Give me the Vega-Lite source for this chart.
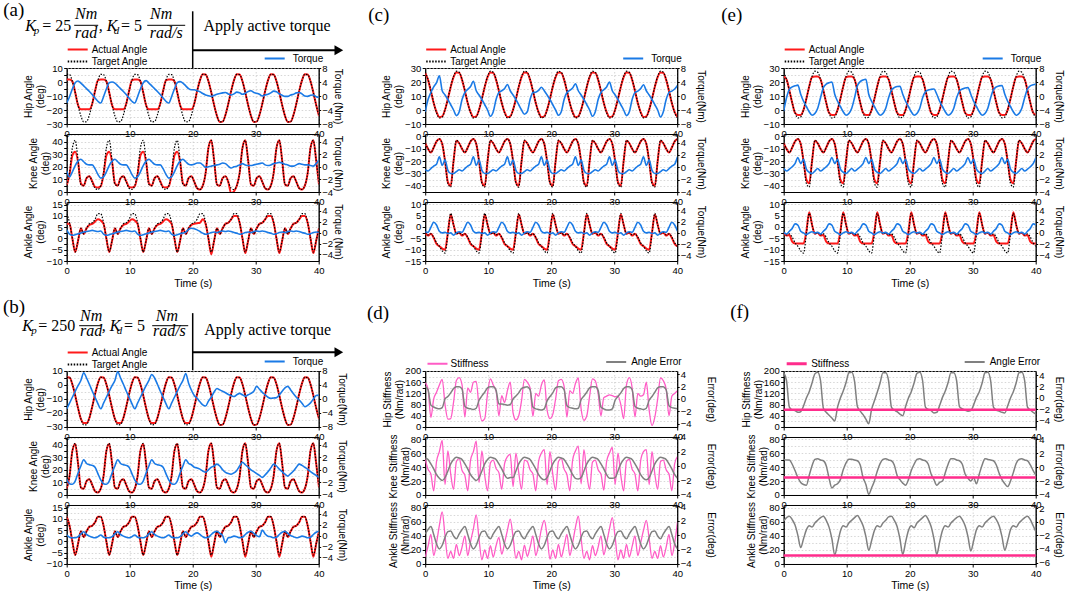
{
"$schema":"https://vega.github.io/schema/vega-lite/v6.json",
"background":"white",
"padding":{"left":2.7,"top":0,"right":4,"bottom":4},
"config":{
"view":{"stroke":"#000","strokeWidth":1},
"axis":{"labelFont":"Liberation Sans","labelFontSize":9.5,"labelColor":"#000","titleFont":"Liberation Sans","titleFontSize":10,"titleFontWeight":"normal","titleColor":"#000","domainColor":"#000","tickColor":"#000","tickSize":3,"labelPadding":1.5,"titlePadding":1,"labelOverlap":false,"labelFlush":false,"gridColor":"#c4c4c4","gridDash":[1.5,2],"gridWidth":0.7,"titleLineHeight":12},
"axisRight":{"tickSize":2,"labelPadding":1},
"legend":{"symbolType":"stroke","symbolSize":400,"symbolStrokeWidth":2,"clipHeight":12,"rowPadding":0,"padding":0,"labelFont":"Liberation Sans","labelFontSize":10,"labelColor":"#000","labelOffset":3},
"text":{"font":"Liberation Serif","fontSize":16,"baseline":"alphabetic","align":"left","color":"#000"}
},
"datasets":{
"ab":[
{"t":0,"h":5.5,"k":5,"n":11,"ah":1.8,"ak":5.5,"an":6.5,"aH":-2,"aK":-0.7,"aN":0.5,"bh":5.5,"bk":5,"bn":11,"bH":-2.8,"bK":-1.5,"bN":0.1},
{"t":0.45,"h":5.3,"k":15,"n":7,"ah":1.8,"ak":14,"an":6.5,"aH":-0.2,"aK":-1.6,"aN":-0.3,"bh":5.3,"bk":15,"bn":7,"bH":-1.2,"bK":-2.2,"bN":-0.3},
{"t":0.9,"h":0.5,"k":35,"n":0,"ah":0.5,"ak":29,"an":0,"aH":2,"aK":-0.8,"aN":-0.5,"bh":0.5,"bk":35,"bn":0,"bH":0.5,"bK":-2.3,"bN":-0.4},
{"t":1.35,"h":-7.5,"k":41,"n":-6,"ah":-7.5,"ak":32,"an":-6,"aH":3.8,"aK":0.2,"aN":-0.4,"bh":-7.5,"bk":40.5,"bn":-6,"bH":2.2,"bK":-1.8,"bN":-0.4},
{"t":1.8,"h":-16.5,"k":25,"n":-1,"ah":-16.5,"ak":24,"an":-1,"aH":4.3,"aK":0.9,"aN":-0.2,"bh":-16.5,"bk":25,"bn":-1,"bH":3.8,"bK":-0.5,"bN":-0.2},
{"t":2.25,"h":-24.2,"k":6,"n":4.5,"ah":-19.5,"ak":7,"an":4.5,"aH":3.7,"aK":1.2,"aN":-0.1,"bh":-24.2,"bk":6,"bn":4.5,"bH":5.3,"bK":0.6,"bN":0.3},
{"t":2.7,"h":-28.5,"k":5,"n":2,"ah":-19.5,"ak":5,"an":2,"aH":2.9,"aK":0.8,"aN":0.1,"bh":-27.2,"bk":5,"bn":2,"bH":7.5,"bK":1.6,"bN":0.7},
{"t":3.15,"h":-28.3,"k":11,"n":4.5,"ah":-19.5,"ak":11,"an":4.5,"aH":2.1,"aK":0.4,"aN":0.2,"bh":-27.2,"bk":11,"bn":4.5,"bH":6,"bK":1,"bN":0.2},
{"t":3.6,"h":-23.5,"k":12.5,"n":6.5,"ah":-19.5,"ak":12.5,"an":6,"aH":1.3,"aK":0.3,"aN":0.3,"bh":-23.5,"bk":12.5,"bn":6.5,"bH":4.2,"bK":0.8,"bN":-0.1},
{"t":4.05,"h":-15.5,"k":8,"n":7,"ah":-15.5,"ak":8.5,"an":6.5,"aH":0.4,"aK":0.3,"aN":0.4,"bh":-15.5,"bk":8,"bn":7,"bH":2.3,"bK":0.7,"bN":-0.3},
{"t":4.5,"h":-6.5,"k":3,"n":8.5,"ah":-6.5,"ak":4,"an":7.5,"aH":-0.6,"aK":-0.3,"aN":0.3,"bh":-6.5,"bk":3,"bn":8.5,"bH":0.5,"bK":0.4,"bN":-0.4},
{"t":4.95,"h":1.2,"k":2,"n":11,"ah":1.2,"ak":3.5,"an":8.5,"aH":-1.5,"aK":-1.2,"aN":0.2,"bh":1.2,"bk":2,"bn":11,"bH":-1.3,"bK":-0.6,"bN":-0.2},
{"t":5.4,"h":5.5,"k":5,"n":11,"ah":1.8,"ak":4.5,"an":8,"aH":-2,"aK":-1.8,"aN":0.3,"bh":5.5,"bk":5,"bn":11,"bH":-2.8,"bK":-1.6,"bN":0.1},
{"t":5.85,"h":5.3,"k":15,"n":7,"ah":1.8,"ak":14,"an":6.5,"aH":-0.2,"aK":-1.6,"aN":-0.3,"bh":5.3,"bk":15,"bn":7,"bH":-1.2,"bK":-2.2,"bN":-0.3},
{"t":6.3,"h":0.5,"k":35,"n":0,"ah":0.5,"ak":29,"an":0,"aH":2,"aK":-0.8,"aN":-0.5,"bh":0.5,"bk":35,"bn":0,"bH":0.5,"bK":-2.3,"bN":-0.4},
{"t":6.75,"h":-7.5,"k":41,"n":-6,"ah":-7.5,"ak":32,"an":-6,"aH":3.8,"aK":0.2,"aN":-0.4,"bh":-7.5,"bk":40.5,"bn":-6,"bH":2.2,"bK":-1.8,"bN":-0.4},
{"t":7.2,"h":-16.5,"k":25,"n":-1,"ah":-16.5,"ak":24,"an":-1,"aH":4,"aK":0.9,"aN":-0.2,"bh":-16.5,"bk":25,"bn":-1,"bH":3.8,"bK":-0.5,"bN":-0.2},
{"t":7.65,"h":-24.2,"k":6,"n":4.5,"ah":-19.5,"ak":7,"an":4.5,"aH":3.7,"aK":1.2,"aN":-0.1,"bh":-24.2,"bk":6,"bn":4.5,"bH":5.3,"bK":0.6,"bN":0.3},
{"t":8.1,"h":-28.5,"k":5,"n":2,"ah":-19.5,"ak":5,"an":2,"aH":2.9,"aK":0.8,"aN":0.1,"bh":-27.2,"bk":5,"bn":2,"bH":7.8,"bK":1.6,"bN":0.7},
{"t":8.55,"h":-28.3,"k":11,"n":4.5,"ah":-19.5,"ak":11,"an":4.5,"aH":2.1,"aK":0.4,"aN":0.2,"bh":-27.2,"bk":11,"bn":4.5,"bH":6,"bK":1,"bN":0.2},
{"t":9,"h":-23.5,"k":12.5,"n":6.5,"ah":-19.5,"ak":12.5,"an":6,"aH":1.3,"aK":0.3,"aN":0.3,"bh":-23.5,"bk":12.5,"bn":6.5,"bH":4.2,"bK":0.8,"bN":-0.1},
{"t":9.45,"h":-15.5,"k":8,"n":7,"ah":-15.5,"ak":8.5,"an":6.5,"aH":0.4,"aK":0.3,"aN":0.4,"bh":-15.5,"bk":8,"bn":7,"bH":2.3,"bK":0.7,"bN":-0.3},
{"t":9.9,"h":-6.5,"k":3,"n":8.5,"ah":-6.5,"ak":4,"an":7.5,"aH":-0.6,"aK":-0.3,"aN":0.3,"bh":-6.5,"bk":3,"bn":8.5,"bH":0.5,"bK":0.4,"bN":-0.4},
{"t":10.35,"h":1.2,"k":2,"n":11,"ah":1.2,"ak":3.5,"an":8.5,"aH":-1.5,"aK":-1.2,"aN":0.2,"bh":1.2,"bk":2,"bn":11,"bH":-1.3,"bK":-0.6,"bN":-0.2},
{"t":10.8,"h":5.5,"k":5,"n":11,"ah":1.8,"ak":4.5,"an":8,"aH":-2,"aK":-1.8,"aN":0.3,"bh":5.5,"bk":5,"bn":11,"bH":-2.8,"bK":-1.6,"bN":0.1},
{"t":11.25,"h":5.3,"k":15,"n":7,"ah":1.8,"ak":14,"an":6.5,"aH":-0.2,"aK":-1.6,"aN":-0.3,"bh":5.3,"bk":15,"bn":7,"bH":-1.2,"bK":-2.2,"bN":-0.3},
{"t":11.7,"h":0.5,"k":35,"n":0,"ah":0.5,"ak":29,"an":0,"aH":2,"aK":-0.8,"aN":-0.5,"bh":0.5,"bk":35,"bn":0,"bH":0.5,"bK":-2.3,"bN":-0.4},
{"t":12.15,"h":-7.5,"k":41,"n":-6,"ah":-7.5,"ak":32,"an":-6,"aH":3.8,"aK":0.2,"aN":-0.4,"bh":-7.5,"bk":40.5,"bn":-6,"bH":2.2,"bK":-1.8,"bN":-0.4},
{"t":12.6,"h":-16.5,"k":25,"n":-1,"ah":-16.5,"ak":24,"an":-1,"aH":4.4,"aK":0.9,"aN":-0.2,"bh":-16.5,"bk":25,"bn":-1,"bH":3.8,"bK":-0.5,"bN":-0.2},
{"t":13.05,"h":-24.2,"k":6,"n":4.5,"ah":-19.5,"ak":7,"an":4.5,"aH":3.7,"aK":1.2,"aN":-0.1,"bh":-24.2,"bk":6,"bn":4.5,"bH":5.3,"bK":0.6,"bN":0.3},
{"t":13.5,"h":-28.5,"k":5,"n":2,"ah":-19.5,"ak":5,"an":2,"aH":2.9,"aK":0.8,"aN":0.1,"bh":-27.2,"bk":5,"bn":2,"bH":7,"bK":1.6,"bN":0.7},
{"t":13.95,"h":-28.3,"k":11,"n":4.5,"ah":-19.5,"ak":11,"an":4.5,"aH":2.1,"aK":0.4,"aN":0.2,"bh":-27.2,"bk":11,"bn":4.5,"bH":6,"bK":1,"bN":0.2},
{"t":14.4,"h":-23.5,"k":12.5,"n":6.5,"ah":-19.5,"ak":12.5,"an":6,"aH":1.3,"aK":0.3,"aN":0.3,"bh":-23.5,"bk":12.5,"bn":6.5,"bH":4.2,"bK":0.8,"bN":-0.1},
{"t":14.85,"h":-15.5,"k":8,"n":7,"ah":-15.5,"ak":8.5,"an":6.5,"aH":0.4,"aK":0.3,"aN":0.4,"bh":-15.5,"bk":8,"bn":7,"bH":2.3,"bK":0.7,"bN":-0.3},
{"t":15.3,"h":-6.5,"k":3,"n":8.5,"ah":-6.5,"ak":4,"an":7.5,"aH":-0.6,"aK":-0.3,"aN":0.3,"bh":-6.5,"bk":3,"bn":8.5,"bH":0.5,"bK":0.4,"bN":-0.4},
{"t":15.75,"h":1.2,"k":2,"n":11,"ah":1.2,"ak":3.5,"an":8.5,"aH":-1.5,"aK":-1.2,"aN":0.2,"bh":1.2,"bk":2,"bn":11,"bH":-1.3,"bK":-0.6,"bN":-0.2},
{"t":16.2,"h":5.5,"k":5,"n":11,"ah":1.8,"ak":4.5,"an":8,"aH":-2,"aK":-1.8,"aN":0.3,"bh":5.5,"bk":5,"bn":11,"bH":-2.8,"bK":-1.6,"bN":0.1},
{"t":16.65,"h":5.3,"k":15,"n":7,"ah":1.8,"ak":14,"an":6.5,"aH":-0.2,"aK":-1.6,"aN":-0.3,"bh":5.3,"bk":15,"bn":7,"bH":-1.2,"bK":-2.2,"bN":-0.3},
{"t":17.1,"h":0.5,"k":35,"n":0,"ah":0.5,"ak":29,"an":0,"aH":2,"aK":-0.8,"aN":-0.5,"bh":0.5,"bk":35,"bn":0,"bH":0.5,"bK":-2.3,"bN":-0.4},
{"t":17.55,"h":-7.5,"k":41,"n":-6,"ah":-7.5,"ak":32,"an":-6,"aH":3.8,"aK":0.2,"aN":-0.4,"bh":-7.5,"bk":40.5,"bn":-6,"bH":2.2,"bK":-1.8,"bN":-0.4},
{"t":18,"h":-16.5,"k":25,"n":-1,"ah":-16.5,"ak":24,"an":-1,"aH":4.1,"aK":0.9,"aN":-0.2,"bh":-16.5,"bk":25,"bn":-1,"bH":3.8,"bK":-0.5,"bN":-0.2},
{"t":18.45,"h":-24.2,"k":6,"n":4.5,"ah":-19.5,"ak":7,"an":4.5,"aH":3.7,"aK":1.2,"aN":-0.1,"bh":-24.2,"bk":6,"bn":4.5,"bH":5.3,"bK":0.6,"bN":0.3},
{"t":18.9,"h":-28.5,"k":5,"n":2,"ah":-19.5,"ak":5,"an":2,"aH":2.9,"aK":0.8,"aN":0.1,"bh":-27.2,"bk":5,"bn":2,"bH":7.3,"bK":1.6,"bN":0.7},
{"t":19.35,"h":-28.3,"k":11,"n":4.5,"ah":-19.5,"ak":11,"an":4.5,"aH":2.1,"aK":0.4,"aN":0.6,"bh":-27.2,"bk":11,"bn":4.5,"bH":4.5,"bK":1,"bN":0.2},
{"t":19.8,"h":-23.5,"k":12.5,"n":6.5,"ah":-19.5,"ak":12.5,"an":6,"aH":1.8,"aK":0.3,"aN":0.8,"bh":-23.5,"bk":12.5,"bn":6.5,"bH":2.5,"bK":0.8,"bN":-0.1},
{"t":20.25,"h":-15.5,"k":8,"n":7,"ah":-15.5,"ak":8,"an":6.5,"aH":1.8,"aK":0.4,"aN":0.7,"bh":-15.5,"bk":8,"bn":7,"bH":1,"bK":0.4,"bN":0.3},
{"t":20.7,"h":-6.5,"k":3,"n":8.5,"ah":-6.5,"ak":3,"an":6.8,"aH":1.5,"aK":0.6,"aN":0.5,"bh":-6.5,"bk":3,"bn":8.5,"bH":0.2,"bK":0.3,"bN":0.5},
{"t":21.15,"h":1.2,"k":2,"n":11,"ah":1.2,"ak":2,"an":7,"aH":1.2,"aK":0.6,"aN":0.2,"bh":1.2,"bk":2,"bn":11,"bH":-0.8,"bK":0.1,"bN":0.2},
{"t":21.6,"h":5.5,"k":5,"n":11,"ah":5.5,"ak":5,"an":8.5,"aH":0.7,"aK":0.3,"aN":-0.1,"bh":5.5,"bk":5,"bn":11,"bH":-1.7,"bK":-0.2,"bN":-0.2},
{"t":22.05,"h":5.3,"k":15,"n":7,"ah":5.3,"ak":15,"an":6.5,"aH":0.3,"aK":-0.1,"aN":-0.3,"bh":5.3,"bk":15,"bn":7,"bH":-2,"bK":-0.4,"bN":-0.4},
{"t":22.5,"h":0.5,"k":35,"n":0,"ah":0.5,"ak":35,"an":0,"aH":0.1,"aK":0,"aN":-0.2,"bh":0.5,"bk":35,"bn":0,"bH":-0.6,"bK":0,"bN":-0.3},
{"t":22.95,"h":-7.5,"k":41,"n":-6,"ah":-7.5,"ak":41,"an":-7,"aH":-0.1,"aK":0.1,"aN":0,"bh":-7.5,"bk":41,"bn":-6.8,"bH":0.5,"bK":0.4,"bN":0.2},
{"t":23.4,"h":-16.5,"k":25,"n":-1,"ah":-16.5,"ak":25,"an":-1,"aH":0.2,"aK":0.2,"aN":0.1,"bh":-16.5,"bk":25,"bn":-1,"bH":2,"bK":0.6,"bN":0.6},
{"t":23.85,"h":-24.2,"k":6,"n":4.5,"ah":-24.2,"ak":6,"an":4.5,"aH":0.5,"aK":0.3,"aN":0,"bh":-24.2,"bk":6,"bn":4.5,"bH":3,"bK":0.9,"bN":0.8},
{"t":24.3,"h":-28.5,"k":5,"n":2,"ah":-28.5,"ak":5,"an":2,"aH":0.7,"aK":0.4,"aN":0.2,"bh":-28.5,"bk":5,"bn":2,"bH":2.6,"bK":0.6,"bN":0.4},
{"t":24.75,"h":-28.3,"k":11,"n":4.5,"ah":-28.3,"ak":11,"an":4.5,"aH":0.9,"aK":0.6,"aN":0.3,"bh":-28.3,"bk":11,"bn":4.5,"bH":2.2,"bK":0,"bN":0},
{"t":25.2,"h":-23.5,"k":12.5,"n":6.5,"ah":-23.5,"ak":12.5,"an":6.5,"aH":1,"aK":0.5,"aN":0.2,"bh":-23.5,"bk":12.5,"bn":6.5,"bH":1.8,"bK":-0.4,"bN":-1.3},
{"t":25.65,"h":-15.5,"k":8,"n":7,"ah":-15.5,"ak":8,"an":7,"aH":0.6,"aK":0.1,"aN":0.3,"bh":-15.5,"bk":8,"bn":7,"bH":1.3,"bK":-0.6,"bN":-0.4},
{"t":26.1,"h":-6.5,"k":3,"n":8.5,"ah":-6.5,"ak":-1,"an":8.5,"aH":0.3,"aK":-0.2,"aN":0.2,"bh":-6.5,"bk":3,"bn":8.5,"bH":1,"bK":-0.7,"bN":-0.3},
{"t":26.55,"h":1.2,"k":2,"n":11,"ah":1.2,"ak":0.5,"an":10,"aH":0.6,"aK":0,"aN":0,"bh":1.2,"bk":2,"bn":11,"bH":0.7,"bK":-0.5,"bN":-0.1},
{"t":27,"h":5.5,"k":5,"n":11,"ah":5.5,"ak":5,"an":10,"aH":1.1,"aK":0.1,"aN":-0.1,"bh":5.5,"bk":5,"bn":11,"bH":1.2,"bK":-0.1,"bN":-0.2},
{"t":27.45,"h":5.3,"k":15,"n":7,"ah":5.3,"ak":15,"an":7,"aH":0.9,"aK":0.3,"aN":-0.3,"bh":5.3,"bk":15,"bn":7,"bH":1.6,"bK":0.6,"bN":-0.4},
{"t":27.9,"h":0.5,"k":35,"n":0,"ah":0.5,"ak":35,"an":0,"aH":0.5,"aK":0.5,"aN":-0.2,"bh":0.5,"bk":35,"bn":0,"bH":1.2,"bK":1.2,"bN":-0.3},
{"t":28.35,"h":-7.5,"k":41,"n":-6,"ah":-7.5,"ak":41,"an":-6.5,"aH":0.8,"aK":0.3,"aN":0,"bh":-7.5,"bk":41,"bn":-6.8,"bH":0.8,"bK":0.8,"bN":0.2},
{"t":28.8,"h":-16.5,"k":25,"n":-1,"ah":-16.5,"ak":25,"an":-1,"aH":1.3,"aK":0.2,"aN":0.1,"bh":-16.5,"bk":25,"bn":-1,"bH":1.2,"bK":0.4,"bN":0.6},
{"t":29.25,"h":-24.2,"k":6,"n":4.5,"ah":-24.2,"ak":6,"an":4.5,"aH":1.5,"aK":0.2,"aN":0,"bh":-24.2,"bk":6,"bn":4.5,"bH":1.6,"bK":0,"bN":0.8},
{"t":29.7,"h":-28.5,"k":5,"n":2,"ah":-28.5,"ak":5,"an":2,"aH":1,"aK":0.3,"aN":0.2,"bh":-28.5,"bk":5,"bn":2,"bH":2.2,"bK":-0.3,"bN":0.4},
{"t":30.15,"h":-28.3,"k":11,"n":4.5,"ah":-28.3,"ak":11,"an":4.5,"aH":0.8,"aK":0.4,"aN":0.3,"bh":-28.3,"bk":11,"bn":4.5,"bH":3.6,"bK":-0.6,"bN":0},
{"t":30.6,"h":-23.5,"k":12.5,"n":6.5,"ah":-23.5,"ak":12.5,"an":6.5,"aH":0.5,"aK":0.5,"aN":0.2,"bh":-23.5,"bk":12.5,"bn":6.5,"bH":2.8,"bK":-0.9,"bN":-0.2},
{"t":31.05,"h":-15.5,"k":8,"n":7,"ah":-15.5,"ak":8,"an":7,"aH":0,"aK":0.6,"aN":0.3,"bh":-15.5,"bk":8,"bn":7,"bH":1.9,"bK":-1.2,"bN":1},
{"t":31.5,"h":-6.5,"k":3,"n":8.5,"ah":-6.5,"ak":3,"an":8.5,"aH":0.3,"aK":0.3,"aN":0.2,"bh":-6.5,"bk":3,"bn":8.5,"bH":1.2,"bK":-0.8,"bN":0.3},
{"t":31.95,"h":1.2,"k":2,"n":11,"ah":1.2,"ak":2,"an":10,"aH":0.5,"aK":0.2,"aN":0,"bh":1.2,"bk":2,"bn":11,"bH":0.5,"bK":-0.3,"bN":-0.1},
{"t":32.4,"h":5.5,"k":5,"n":11,"ah":5.5,"ak":5,"an":10,"aH":0.9,"aK":0.3,"aN":-0.1,"bh":5.5,"bk":5,"bn":11,"bH":0.2,"bK":0.3,"bN":-0.2},
{"t":32.85,"h":5.3,"k":15,"n":7,"ah":5.3,"ak":15,"an":7,"aH":1.4,"aK":0.5,"aN":-0.3,"bh":5.3,"bk":15,"bn":7,"bH":0.3,"bK":0.9,"bN":-0.4},
{"t":33.3,"h":0.5,"k":35,"n":0,"ah":0.5,"ak":35,"an":0,"aH":1.2,"aK":0.6,"aN":-0.2,"bh":0.5,"bk":35,"bn":0,"bH":0.4,"bK":0.6,"bN":-0.3},
{"t":33.75,"h":-7.5,"k":41,"n":-6,"ah":-7.5,"ak":41,"an":-6.5,"aH":0.6,"aK":0.7,"aN":0,"bh":-7.5,"bk":41,"bn":-6.8,"bH":1.2,"bK":0.1,"bN":0.2},
{"t":34.2,"h":-16.5,"k":25,"n":-1,"ah":-16.5,"ak":25,"an":-1,"aH":0.2,"aK":0.6,"aN":0.1,"bh":-16.5,"bk":25,"bn":-1,"bH":2.2,"bK":-0.3,"bN":0.6},
{"t":34.65,"h":-24.2,"k":6,"n":4.5,"ah":-24.2,"ak":6,"an":4.5,"aH":-0.1,"aK":0.4,"aN":0,"bh":-24.2,"bk":6,"bn":4.5,"bH":3.2,"bK":-0.7,"bN":0.8},
{"t":35.1,"h":-28.5,"k":5,"n":2,"ah":-28.5,"ak":5,"an":2,"aH":-0.1,"aK":0.3,"aN":0.2,"bh":-28.5,"bk":5,"bn":2,"bH":3.6,"bK":-1,"bN":0.4},
{"t":35.55,"h":-28.3,"k":11,"n":4.5,"ah":-28.3,"ak":11,"an":4.5,"aH":0.3,"aK":0.1,"aN":0.3,"bh":-28.3,"bk":11,"bn":4.5,"bH":2.6,"bK":-0.6,"bN":0},
{"t":36,"h":-23.5,"k":12.5,"n":6.5,"ah":-23.5,"ak":12.5,"an":6.5,"aH":0.5,"aK":0.1,"aN":0.2,"bh":-23.5,"bk":12.5,"bn":6.5,"bH":1.5,"bK":-0.2,"bN":-0.2},
{"t":36.45,"h":-15.5,"k":8,"n":7,"ah":-15.5,"ak":8,"an":7,"aH":0.9,"aK":0.3,"aN":0.3,"bh":-15.5,"bk":8,"bn":7,"bH":0.5,"bK":0.4,"bN":-0.4},
{"t":36.9,"h":-6.5,"k":3,"n":8.5,"ah":-6.5,"ak":3,"an":8.5,"aH":1,"aK":0.5,"aN":0.2,"bh":-6.5,"bk":3,"bn":8.5,"bH":-0.3,"bK":0.9,"bN":-0.3},
{"t":37.35,"h":1.2,"k":2,"n":11,"ah":1.2,"ak":2,"an":10,"aH":0.6,"aK":0.4,"aN":0,"bh":1.2,"bk":2,"bn":11,"bH":-1.2,"bK":0.7,"bN":-0.1},
{"t":37.8,"h":5.5,"k":5,"n":11,"ah":5.5,"ak":5,"an":10,"aH":0,"aK":0.3,"aN":-0.1,"bh":5.5,"bk":5,"bn":11,"bH":-2.2,"bK":0.4,"bN":-0.2},
{"t":38.25,"h":5.3,"k":15,"n":7,"ah":5.3,"ak":15,"an":7,"aH":-0.1,"aK":0.3,"aN":-0.3,"bh":5.3,"bk":15,"bn":7,"bH":-1.8,"bK":0.1,"bN":-0.4},
{"t":38.7,"h":0.5,"k":35,"n":0,"ah":0.5,"ak":35,"an":0,"aH":0.2,"aK":0.2,"aN":-0.2,"bh":0.5,"bk":35,"bn":0,"bH":-1.1,"bK":-0.3,"bN":-0.3},
{"t":39.15,"h":-7.5,"k":41,"n":-6,"ah":-7.5,"ak":41,"an":-6.5,"aH":0.3,"aK":0.1,"aN":0,"bh":-7.5,"bk":41,"bn":-6.8,"bH":0,"bK":-0.6,"bN":0.2},
{"t":39.6,"h":-16.5,"k":25,"n":-1,"ah":-16.5,"ak":25,"an":-1,"aH":-0.2,"aK":0.5,"aN":0.1,"bh":-16.5,"bk":25,"bn":-1,"bH":1,"bK":-0.9,"bN":0.6},
{"t":40.05,"h":-24.2,"k":6,"n":4.5,"ah":-24.2,"ak":6,"an":4.5,"aH":-0.4,"aK":1.1,"aN":0,"bh":-24.2,"bk":6,"bn":4.5,"bH":1.1,"bK":-1.2,"bN":0.8}
],
"ce":[
{"t":0,"h":27,"k":-5.5,"n":-2.5,"ch":26.5,"ck":-5.5,"cn":-2.5,"cH":-4.5,"cK":-0.4,"cN":0.2,"eh":24,"ek":-5.5,"en":-2.5,"eH":-4.3,"eK":-0.2,"eN":0.1},
{"t":0.45,"h":21.9,"k":-10,"n":-3.5,"ch":21.5,"ck":-10,"cn":-3.8,"cH":-1,"cK":-0.6,"cN":0.1,"eh":21.9,"ek":-10,"en":-3.8,"eH":-0.5,"eK":-0.6,"eN":-0.2},
{"t":0.9,"h":14,"k":-13,"n":-3,"ch":13.5,"ck":-13,"cn":-3,"cH":1,"cK":-0.2,"cN":1,"eh":14,"ek":-13,"en":-3.5,"eH":1.9,"eK":-0.3,"eN":0.3},
{"t":1.35,"h":5.2,"k":-9,"n":-4.5,"ch":5,"ck":-9,"cn":-4.8,"cH":2.6,"cK":0.2,"cN":1.9,"eh":5.2,"ek":-9,"en":-6.5,"eH":2.6,"eK":0.1,"eN":0.8},
{"t":1.8,"h":-2,"k":-4,"n":-7,"ch":-1.5,"ck":-4,"cn":-7.5,"cH":3.8,"cK":0.5,"cN":1.4,"eh":-2,"ek":-4,"en":-7.3,"eH":2.9,"eK":0.6,"eN":1.6},
{"t":2.25,"h":-5.7,"k":-2,"n":-8.5,"ch":-5,"ck":-2,"cn":-8.5,"cH":5.8,"cK":1.7,"cN":0.3,"eh":-3.5,"ek":-2,"en":-7.3,"eH":3.1,"eK":1.6,"eN":1.4},
{"t":2.7,"h":-5,"k":-6,"n":-10.5,"ch":-4.5,"ck":-6,"cn":-9.5,"cH":1.5,"cK":0.3,"cN":0,"eh":-3.5,"ek":-6,"en":-7.3,"eH":0.5,"eK":0.6,"eN":0.3},
{"t":3.15,"h":0.1,"k":-20,"n":-11.5,"ch":0.3,"ck":-20,"cn":-10,"cH":0.3,"cK":1.2,"cN":0.1,"eh":0.1,"ek":-20,"en":-7.3,"eH":-1.5,"eK":1.3,"eN":0},
{"t":3.6,"h":8,"k":-38,"n":-3,"ch":8,"ck":-37,"cn":-2.5,"cH":-1,"cK":-0.5,"cN":-0.1,"eh":8,"ek":-35,"en":-2,"eH":-3,"eK":-0.3,"eN":-0.3},
{"t":4.05,"h":16.8,"k":-41,"n":6,"ch":16.5,"ck":-40,"cn":5.5,"cH":-2.5,"cK":-1,"cN":0,"eh":16.8,"ek":-38,"en":6.5,"eH":-4.5,"eK":-0.8,"eN":0},
{"t":4.5,"h":24,"k":-20,"n":1,"ch":23.5,"ck":-20,"cn":1,"cH":-4,"cK":-1,"cN":-0.4,"eh":23.5,"ek":-20,"en":1,"eH":-5.5,"eK":-1,"eN":0.2},
{"t":4.95,"h":27.7,"k":-3,"n":-3,"ch":26.8,"ck":-3.5,"cn":-3,"cH":-5.6,"cK":-0.7,"cN":0,"eh":24,"ek":-3.5,"en":-3,"eH":-5,"eK":-0.6,"eN":0},
{"t":5.4,"h":27,"k":-5.5,"n":-2.5,"ch":26.5,"ck":-5.5,"cn":-2.5,"cH":-4.5,"cK":-0.4,"cN":0.2,"eh":24,"ek":-5.5,"en":-2.5,"eH":-3.5,"eK":-0.2,"eN":0.1},
{"t":5.85,"h":21.9,"k":-10,"n":-3.5,"ch":21.5,"ck":-10,"cn":-3.8,"cH":-1,"cK":-0.6,"cN":0.1,"eh":21.9,"ek":-10,"en":-3.8,"eH":-0.5,"eK":-0.6,"eN":-0.2},
{"t":6.3,"h":14,"k":-13,"n":-3,"ch":13.5,"ck":-13,"cn":-3,"cH":1,"cK":-0.2,"cN":1,"eh":14,"ek":-13,"en":-3.5,"eH":2.4,"eK":-0.3,"eN":0.3},
{"t":6.75,"h":5.2,"k":-9,"n":-4.5,"ch":5,"ck":-9,"cn":-4.8,"cH":1.9,"cK":0.2,"cN":1.9,"eh":5.2,"ek":-9,"en":-6.5,"eH":3.4,"eK":0.1,"eN":0.8},
{"t":7.2,"h":-2,"k":-4,"n":-7,"ch":-1.5,"ck":-4,"cn":-7.5,"cH":2.7,"cK":0.5,"cN":1.4,"eh":-2,"ek":-4,"en":-7.3,"eH":3.8,"eK":0.6,"eN":1.6},
{"t":7.65,"h":-5.7,"k":-2,"n":-8.5,"ch":-5,"ck":-2,"cn":-8.5,"cH":4.2,"cK":1.7,"cN":0.3,"eh":-3.5,"ek":-2,"en":-7.3,"eH":4,"eK":1.6,"eN":1.4},
{"t":8.1,"h":-5,"k":-6,"n":-10.5,"ch":-4.5,"ck":-6,"cn":-9.5,"cH":1.5,"cK":0.3,"cN":0,"eh":-3.5,"ek":-6,"en":-7.3,"eH":0.5,"eK":0.6,"eN":0.3},
{"t":8.55,"h":0.1,"k":-20,"n":-11.5,"ch":0.3,"ck":-20,"cn":-10,"cH":0.3,"cK":1.2,"cN":0.1,"eh":0.1,"ek":-20,"en":-7.3,"eH":-1.5,"eK":1.3,"eN":0},
{"t":9,"h":8,"k":-38,"n":-3,"ch":8,"ck":-37,"cn":-2.5,"cH":-1,"cK":-0.5,"cN":-0.1,"eh":8,"ek":-35,"en":-2,"eH":-3,"eK":-0.3,"eN":-0.3},
{"t":9.45,"h":16.8,"k":-41,"n":6,"ch":16.5,"ck":-40,"cn":5.5,"cH":-2.5,"cK":-1,"cN":0,"eh":16.8,"ek":-38,"en":6.5,"eH":-4.5,"eK":-0.8,"eN":0},
{"t":9.9,"h":24,"k":-20,"n":1,"ch":23.5,"ck":-20,"cn":1,"cH":-4,"cK":-1,"cN":-0.4,"eh":23.5,"ek":-20,"en":1,"eH":-5.5,"eK":-1,"eN":0.2},
{"t":10.35,"h":27.7,"k":-3,"n":-3,"ch":26.8,"ck":-3.5,"cn":-3,"cH":-5.8,"cK":-0.7,"cN":0,"eh":24,"ek":-3.5,"en":-3,"eH":-5,"eK":-0.6,"eN":0},
{"t":10.8,"h":27,"k":-5.5,"n":-2.5,"ch":26.5,"ck":-5.5,"cn":-2.5,"cH":-4.5,"cK":-0.4,"cN":0.2,"eh":24,"ek":-5.5,"en":-2.5,"eH":-3.5,"eK":-0.2,"eN":0.1},
{"t":11.25,"h":21.9,"k":-10,"n":-3.5,"ch":21.5,"ck":-10,"cn":-3.8,"cH":-1,"cK":-0.6,"cN":0.1,"eh":21.9,"ek":-10,"en":-3.8,"eH":-0.5,"eK":-0.6,"eN":-0.2},
{"t":11.7,"h":14,"k":-13,"n":-3,"ch":13.5,"ck":-13,"cn":-3,"cH":1,"cK":-0.2,"cN":1,"eh":14,"ek":-13,"en":-3.5,"eH":2.9,"eK":-0.3,"eN":0.3},
{"t":12.15,"h":5.2,"k":-9,"n":-4.5,"ch":5,"ck":-9,"cn":-4.8,"cH":1.5,"cK":0.2,"cN":1.9,"eh":5.2,"ek":-9,"en":-6.5,"eH":4.1,"eK":0.1,"eN":0.8},
{"t":12.6,"h":-2,"k":-4,"n":-7,"ch":-1.5,"ck":-4,"cn":-7.5,"cH":2.1,"cK":0.5,"cN":1.4,"eh":-2,"ek":-4,"en":-7.3,"eH":4.6,"eK":0.6,"eN":1.6},
{"t":13.05,"h":-5.7,"k":-2,"n":-8.5,"ch":-5,"ck":-2,"cn":-8.5,"cH":3.3,"cK":1.7,"cN":0.3,"eh":-3.5,"ek":-2,"en":-7.3,"eH":4.8,"eK":1.6,"eN":1.4},
{"t":13.5,"h":-5,"k":-6,"n":-10.5,"ch":-4.5,"ck":-6,"cn":-9.5,"cH":1.5,"cK":0.3,"cN":0,"eh":-3.5,"ek":-6,"en":-7.3,"eH":0.5,"eK":0.6,"eN":0.3},
{"t":13.95,"h":0.1,"k":-20,"n":-11.5,"ch":0.3,"ck":-20,"cn":-10,"cH":0.3,"cK":1.2,"cN":0.1,"eh":0.1,"ek":-20,"en":-7.3,"eH":-1.5,"eK":1.3,"eN":0},
{"t":14.4,"h":8,"k":-38,"n":-3,"ch":8,"ck":-37,"cn":-2.5,"cH":-1,"cK":-0.5,"cN":-0.1,"eh":8,"ek":-35,"en":-2,"eH":-3,"eK":-0.3,"eN":-0.3},
{"t":14.85,"h":16.8,"k":-41,"n":6,"ch":16.5,"ck":-40,"cn":5.5,"cH":-2.5,"cK":-1,"cN":0,"eh":16.8,"ek":-38,"en":6.5,"eH":-4.5,"eK":-0.8,"eN":0},
{"t":15.3,"h":24,"k":-20,"n":1,"ch":23.5,"ck":-20,"cn":1,"cH":-4,"cK":-1,"cN":-0.4,"eh":23.5,"ek":-20,"en":1,"eH":-5.5,"eK":-1,"eN":0.2},
{"t":15.75,"h":27.7,"k":-3,"n":-3,"ch":26.8,"ck":-3.5,"cn":-3,"cH":-5.2,"cK":-0.7,"cN":0,"eh":24,"ek":-3.5,"en":-3,"eH":-5,"eK":-0.6,"eN":0},
{"t":16.2,"h":27,"k":-5.5,"n":-2.5,"ch":26.5,"ck":-5.5,"cn":-2.5,"cH":-4.5,"cK":-0.4,"cN":0.2,"eh":24,"ek":-5.5,"en":-2.5,"eH":-3.5,"eK":-0.2,"eN":0.1},
{"t":16.65,"h":21.9,"k":-10,"n":-3.5,"ch":21.5,"ck":-10,"cn":-3.8,"cH":-1,"cK":-0.6,"cN":0.1,"eh":21.9,"ek":-10,"en":-3.8,"eH":-0.5,"eK":-0.6,"eN":-0.2},
{"t":17.1,"h":14,"k":-13,"n":-3,"ch":13.5,"ck":-13,"cn":-3,"cH":1,"cK":-0.2,"cN":1,"eh":14,"ek":-13,"en":-3.5,"eH":1.7,"eK":-0.3,"eN":0.3},
{"t":17.55,"h":5.2,"k":-9,"n":-4.5,"ch":5,"ck":-9,"cn":-4.8,"cH":1.1,"cK":0.2,"cN":1.9,"eh":5.2,"ek":-9,"en":-6.5,"eH":2.4,"eK":0.1,"eN":0.8},
{"t":18,"h":-2,"k":-4,"n":-7,"ch":-1.5,"ck":-4,"cn":-7.5,"cH":1.6,"cK":0.5,"cN":1.4,"eh":-2,"ek":-4,"en":-7.3,"eH":2.7,"eK":0.6,"eN":1.6},
{"t":18.45,"h":-5.7,"k":-2,"n":-8.5,"ch":-5,"ck":-2,"cn":-8.5,"cH":2.5,"cK":1.7,"cN":0.3,"eh":-3.5,"ek":-2,"en":-7.3,"eH":2.8,"eK":1.6,"eN":1.4},
{"t":18.9,"h":-5,"k":-6,"n":-10.5,"ch":-4.5,"ck":-6,"cn":-9.5,"cH":1.5,"cK":0.3,"cN":0,"eh":-3.5,"ek":-6,"en":-7.3,"eH":0.5,"eK":0.6,"eN":0.3},
{"t":19.35,"h":0.1,"k":-20,"n":-11.5,"ch":0.3,"ck":-20,"cn":-10,"cH":0.3,"cK":1.2,"cN":0.1,"eh":0.1,"ek":-20,"en":-7.3,"eH":-1.5,"eK":1.3,"eN":0},
{"t":19.8,"h":8,"k":-38,"n":-3,"ch":8,"ck":-37,"cn":-2.5,"cH":-1,"cK":-0.5,"cN":-0.1,"eh":8,"ek":-35,"en":-2,"eH":-3,"eK":-0.3,"eN":-0.3},
{"t":20.25,"h":16.8,"k":-41,"n":6,"ch":16.5,"ck":-40,"cn":5.5,"cH":-2.5,"cK":-1,"cN":0,"eh":16.8,"ek":-38,"en":6.5,"eH":-4.5,"eK":-0.8,"eN":0},
{"t":20.7,"h":24,"k":-20,"n":1,"ch":23.5,"ck":-20,"cn":1,"cH":-4,"cK":-1,"cN":-0.4,"eh":23.5,"ek":-20,"en":1,"eH":-5.5,"eK":-1,"eN":0.2},
{"t":21.15,"h":27.7,"k":-3,"n":-3,"ch":26.8,"ck":-3.5,"cn":-3,"cH":-5.5,"cK":-0.7,"cN":0,"eh":24,"ek":-3.5,"en":-3,"eH":-5,"eK":-0.6,"eN":0},
{"t":21.6,"h":27,"k":-5.5,"n":-2.5,"ch":26.5,"ck":-5.5,"cn":-2.5,"cH":-4.5,"cK":-0.4,"cN":0.2,"eh":24,"ek":-5.5,"en":-2.5,"eH":-3.5,"eK":-0.2,"eN":0.1},
{"t":22.05,"h":21.9,"k":-10,"n":-3.5,"ch":21.5,"ck":-10,"cn":-3.8,"cH":-1,"cK":-0.6,"cN":0.1,"eh":21.9,"ek":-10,"en":-3.8,"eH":-0.5,"eK":-0.6,"eN":-0.2},
{"t":22.5,"h":14,"k":-13,"n":-3,"ch":13.5,"ck":-13,"cn":-3,"cH":1,"cK":-0.2,"cN":1,"eh":14,"ek":-13,"en":-3.5,"eH":1.2,"eK":-0.3,"eN":0.3},
{"t":22.95,"h":5.2,"k":-9,"n":-4.5,"ch":5,"ck":-9,"cn":-4.8,"cH":1.6,"cK":0.2,"cN":1.9,"eh":5.2,"ek":-9,"en":-6.5,"eH":1.7,"eK":0.1,"eN":0.8},
{"t":23.4,"h":-2,"k":-4,"n":-7,"ch":-1.5,"ck":-4,"cn":-7.5,"cH":2.3,"cK":0.5,"cN":1.4,"eh":-2,"ek":-4,"en":-7.3,"eH":1.9,"eK":0.6,"eN":1.6},
{"t":23.85,"h":-5.7,"k":-2,"n":-8.5,"ch":-5,"ck":-2,"cn":-8.5,"cH":3.5,"cK":1.7,"cN":0.3,"eh":-3.5,"ek":-2,"en":-7.3,"eH":2,"eK":1.6,"eN":1.4},
{"t":24.3,"h":-5,"k":-6,"n":-10.5,"ch":-4.5,"ck":-6,"cn":-9.5,"cH":1.5,"cK":0.3,"cN":0,"eh":-3.5,"ek":-6,"en":-7.3,"eH":0.5,"eK":0.6,"eN":0.3},
{"t":24.75,"h":0.1,"k":-20,"n":-11.5,"ch":0.3,"ck":-20,"cn":-10,"cH":0.3,"cK":1.2,"cN":0.1,"eh":0.1,"ek":-20,"en":-7.3,"eH":-1.5,"eK":1.3,"eN":0},
{"t":25.2,"h":8,"k":-38,"n":-3,"ch":8,"ck":-37,"cn":-2.5,"cH":-1,"cK":-0.5,"cN":-0.1,"eh":8,"ek":-35,"en":-2,"eH":-3,"eK":-0.3,"eN":-0.3},
{"t":25.65,"h":16.8,"k":-41,"n":6,"ch":16.5,"ck":-40,"cn":5.5,"cH":-2.5,"cK":-1,"cN":0,"eh":16.8,"ek":-38,"en":6.5,"eH":-4.5,"eK":-0.8,"eN":0},
{"t":26.1,"h":24,"k":-20,"n":1,"ch":23.5,"ck":-20,"cn":1,"cH":-4,"cK":-1,"cN":-0.4,"eh":23.5,"ek":-20,"en":1,"eH":-5.5,"eK":-1,"eN":0.2},
{"t":26.55,"h":27.7,"k":-3,"n":-3,"ch":26.8,"ck":-3.5,"cn":-3,"cH":-5.8,"cK":-0.7,"cN":0,"eh":24,"ek":-3.5,"en":-3,"eH":-5,"eK":-0.6,"eN":0},
{"t":27,"h":27,"k":-5.5,"n":-2.5,"ch":26.5,"ck":-5.5,"cn":-2.5,"cH":-4.5,"cK":-0.4,"cN":0.2,"eh":24,"ek":-5.5,"en":-2.5,"eH":-3.5,"eK":-0.2,"eN":0.1},
{"t":27.45,"h":21.9,"k":-10,"n":-3.5,"ch":21.5,"ck":-10,"cn":-3.8,"cH":-1,"cK":-0.6,"cN":0.1,"eh":21.9,"ek":-10,"en":-3.8,"eH":-0.5,"eK":-0.6,"eN":-0.2},
{"t":27.9,"h":14,"k":-13,"n":-3,"ch":13.5,"ck":-13,"cn":-3,"cH":1,"cK":-0.2,"cN":1,"eh":14,"ek":-13,"en":-3.5,"eH":1.4,"eK":-0.3,"eN":0.3},
{"t":28.35,"h":5.2,"k":-9,"n":-4.5,"ch":5,"ck":-9,"cn":-4.8,"cH":1.8,"cK":0.2,"cN":1.9,"eh":5.2,"ek":-9,"en":-6.5,"eH":2,"eK":0.1,"eN":0.8},
{"t":28.8,"h":-2,"k":-4,"n":-7,"ch":-1.5,"ck":-4,"cn":-7.5,"cH":2.6,"cK":0.5,"cN":1.4,"eh":-2,"ek":-4,"en":-7.3,"eH":2.3,"eK":0.6,"eN":1.6},
{"t":29.25,"h":-5.7,"k":-2,"n":-8.5,"ch":-5,"ck":-2,"cn":-8.5,"cH":4,"cK":1.7,"cN":0.3,"eh":-3.5,"ek":-2,"en":-7.3,"eH":2.4,"eK":1.6,"eN":1.4},
{"t":29.7,"h":-5,"k":-6,"n":-10.5,"ch":-4.5,"ck":-6,"cn":-9.5,"cH":1.5,"cK":0.3,"cN":0,"eh":-3.5,"ek":-6,"en":-7.3,"eH":0.5,"eK":0.6,"eN":0.3},
{"t":30.15,"h":0.1,"k":-20,"n":-11.5,"ch":0.3,"ck":-20,"cn":-10,"cH":0.3,"cK":1.2,"cN":0.1,"eh":0.1,"ek":-20,"en":-7.3,"eH":-1.5,"eK":1.3,"eN":0},
{"t":30.6,"h":8,"k":-38,"n":-3,"ch":8,"ck":-37,"cn":-2.5,"cH":-1,"cK":-0.5,"cN":-0.1,"eh":8,"ek":-35,"en":-2,"eH":-3,"eK":-0.3,"eN":-0.3},
{"t":31.05,"h":16.8,"k":-41,"n":6,"ch":16.5,"ck":-40,"cn":5.5,"cH":-2.5,"cK":-1,"cN":0,"eh":16.8,"ek":-38,"en":6.5,"eH":-4.5,"eK":-0.8,"eN":0},
{"t":31.5,"h":24,"k":-20,"n":1,"ch":23.5,"ck":-20,"cn":1,"cH":-4,"cK":-1,"cN":-0.4,"eh":23.5,"ek":-20,"en":1,"eH":-5.5,"eK":-1,"eN":0.2},
{"t":31.95,"h":27.7,"k":-3,"n":-3,"ch":26.8,"ck":-3.5,"cn":-3,"cH":-5.6,"cK":-0.7,"cN":0,"eh":24,"ek":-3.5,"en":-3,"eH":-5,"eK":-0.6,"eN":0},
{"t":32.4,"h":27,"k":-5.5,"n":-2.5,"ch":26.5,"ck":-5.5,"cn":-2.5,"cH":-4.5,"cK":-0.4,"cN":0.2,"eh":24,"ek":-5.5,"en":-2.5,"eH":-3.5,"eK":-0.2,"eN":0.1},
{"t":32.85,"h":21.9,"k":-10,"n":-3.5,"ch":21.5,"ck":-10,"cn":-3.8,"cH":-1,"cK":-0.6,"cN":0.1,"eh":21.9,"ek":-10,"en":-3.8,"eH":-0.5,"eK":-0.6,"eN":-0.2},
{"t":33.3,"h":14,"k":-13,"n":-3,"ch":13.5,"ck":-13,"cn":-3,"cH":1,"cK":-0.2,"cN":1,"eh":14,"ek":-13,"en":-3.5,"eH":1.8,"eK":-0.3,"eN":0.3},
{"t":33.75,"h":5.2,"k":-9,"n":-4.5,"ch":5,"ck":-9,"cn":-4.8,"cH":1.4,"cK":0.2,"cN":1.9,"eh":5.2,"ek":-9,"en":-6.5,"eH":2.6,"eK":0.1,"eN":0.8},
{"t":34.2,"h":-2,"k":-4,"n":-7,"ch":-1.5,"ck":-4,"cn":-7.5,"cH":2.1,"cK":0.5,"cN":1.4,"eh":-2,"ek":-4,"en":-7.3,"eH":2.9,"eK":0.6,"eN":1.6},
{"t":34.65,"h":-5.7,"k":-2,"n":-8.5,"ch":-5,"ck":-2,"cn":-8.5,"cH":3.2,"cK":1.7,"cN":0.3,"eh":-3.5,"ek":-2,"en":-7.3,"eH":3,"eK":1.6,"eN":1.4},
{"t":35.1,"h":-5,"k":-6,"n":-10.5,"ch":-4.5,"ck":-6,"cn":-9.5,"cH":1.5,"cK":0.3,"cN":0,"eh":-3.5,"ek":-6,"en":-7.3,"eH":0.5,"eK":0.6,"eN":0.3},
{"t":35.55,"h":0.1,"k":-20,"n":-11.5,"ch":0.3,"ck":-20,"cn":-10,"cH":0.3,"cK":1.2,"cN":0.1,"eh":0.1,"ek":-20,"en":-7.3,"eH":-1.5,"eK":1.3,"eN":0},
{"t":36,"h":8,"k":-38,"n":-3,"ch":8,"ck":-37,"cn":-2.5,"cH":-1,"cK":-0.5,"cN":-0.1,"eh":8,"ek":-35,"en":-2,"eH":-3,"eK":-0.3,"eN":-0.3},
{"t":36.45,"h":16.8,"k":-41,"n":6,"ch":16.5,"ck":-40,"cn":5.5,"cH":-2.5,"cK":-1,"cN":0,"eh":16.8,"ek":-38,"en":6.5,"eH":-4.5,"eK":-0.8,"eN":0},
{"t":36.9,"h":24,"k":-20,"n":1,"ch":23.5,"ck":-20,"cn":1,"cH":-4,"cK":-1,"cN":-0.4,"eh":23.5,"ek":-20,"en":1,"eH":-5.5,"eK":-1,"eN":0.2},
{"t":37.35,"h":27.7,"k":-3,"n":-3,"ch":26.8,"ck":-3.5,"cn":-3,"cH":-6,"cK":-0.7,"cN":0,"eh":24,"ek":-3.5,"en":-3,"eH":-5,"eK":-0.6,"eN":0},
{"t":37.8,"h":27,"k":-5.5,"n":-2.5,"ch":26.5,"ck":-5.5,"cn":-2.5,"cH":-4.5,"cK":-0.4,"cN":0.2,"eh":24,"ek":-5.5,"en":-2.5,"eH":-3.5,"eK":-0.2,"eN":0.1},
{"t":38.25,"h":21.9,"k":-10,"n":-3.5,"ch":21.5,"ck":-10,"cn":-3.8,"cH":-1,"cK":-0.6,"cN":0.1,"eh":21.9,"ek":-10,"en":-3.8,"eH":-0.5,"eK":-0.6,"eN":-0.2},
{"t":38.7,"h":14,"k":-13,"n":-3,"ch":13.5,"ck":-13,"cn":-3,"cH":1,"cK":-0.2,"cN":1,"eh":14,"ek":-13,"en":-3.5,"eH":2,"eK":-0.3,"eN":0.3},
{"t":39.15,"h":5.2,"k":-9,"n":-4.5,"ch":5,"ck":-9,"cn":-4.8,"cH":1.4,"cK":0.2,"cN":1.9,"eh":5.2,"ek":-9,"en":-6.5,"eH":2.9,"eK":0.1,"eN":0.8},
{"t":39.6,"h":-2,"k":-4,"n":-7,"ch":-1.5,"ck":-4,"cn":-7.5,"cH":2,"cK":0.5,"cN":1.4,"eh":-2,"ek":-4,"en":-7.3,"eH":3.2,"eK":0.6,"eN":1.6},
{"t":40.05,"h":-5.7,"k":-2,"n":-8.5,"ch":-5,"ck":-2,"cn":-8.5,"cH":3,"cK":1.7,"cN":0.3,"eh":-3.5,"ek":-2,"en":-7.3,"eH":3.4,"eK":1.6,"eN":1.4}
],
"df":[
{"t":0,"dh":158,"dk":51,"dn":10,"dH":2,"dK":1.1,"dN":0.2,"fH":4.4,"fK":1.1,"fN":0.1},
{"t":0.45,"dh":136,"dk":37,"dn":25,"dH":1.5,"dK":0.9,"dN":0.8,"fH":3,"fK":1,"fN":0.6},
{"t":0.9,"dh":34,"dk":30,"dn":42,"dH":-1,"dK":0.3,"dN":1.2,"fH":-1.6,"fK":1,"fN":0.8},
{"t":1.35,"dh":100,"dk":6,"dn":12,"dH":-1.3,"dK":-0.4,"dN":0.1,"fH":-2.1,"fK":0.4,"fN":0.3},
{"t":1.8,"dh":124,"dk":48,"dn":30,"dH":-1.5,"dK":-1.2,"dN":-1.2,"fH":-2.2,"fK":-0.5,"fN":-0.5},
{"t":2.25,"dh":150,"dk":62,"dn":55,"dH":-1.6,"dK":-1.7,"dN":-1.9,"fH":-2.5,"fK":-1.5,"fN":-2},
{"t":2.7,"dh":170,"dk":78,"dn":74,"dH":-1.4,"dK":-2,"dN":-1.4,"fH":-2.4,"fK":-2.2,"fN":-3.8},
{"t":3.15,"dh":80,"dk":15,"dn":40,"dH":0,"dK":-1.6,"dN":-0.3,"fH":-1.4,"fK":-2.5,"fN":-2.5},
{"t":3.6,"dh":28,"dk":63,"dn":8,"dH":0.4,"dK":-0.7,"dN":0.5,"fH":0,"fK":-2.6,"fN":-1.2},
{"t":4.05,"dh":30,"dk":30,"dn":18,"dH":1,"dK":0.3,"dN":0.6,"fH":1.1,"fK":-1.2,"fN":-0.6},
{"t":4.5,"dh":88,"dk":8,"dn":8,"dH":1.7,"dK":0.9,"dN":-0.1,"fH":2.6,"fK":0.2,"fN":-0.8},
{"t":4.95,"dh":166,"dk":48,"dn":28,"dH":2,"dK":1.2,"dN":-0.5,"fH":4.2,"fK":1.1,"fN":-0.2},
{"t":5.4,"dh":176,"dk":52,"dn":12,"dH":2,"dK":1.1,"dN":0.2,"fH":4.5,"fK":1.2,"fN":0.2},
{"t":5.85,"dh":150,"dk":35,"dn":24,"dH":1.6,"dK":0.9,"dN":0.8,"fH":3,"fK":1,"fN":0.6},
{"t":6.3,"dh":36,"dk":28,"dn":40,"dH":-1.2,"dK":0.3,"dN":1.2,"fH":-1.8,"fK":0.9,"fN":0.8},
{"t":6.75,"dh":140,"dk":6,"dn":12,"dH":-1.5,"dK":-0.4,"dN":0.1,"fH":-2.5,"fK":0.2,"fN":0.2},
{"t":7.2,"dh":124,"dk":50,"dn":32,"dH":-1.6,"dK":-1.2,"dN":-1.2,"fH":-3,"fK":-1.6,"fN":-0.8},
{"t":7.65,"dh":160,"dk":62,"dn":50,"dH":-1.7,"dK":-1.7,"dN":-1.9,"fH":-3.5,"fK":-3,"fN":-2.5},
{"t":8.1,"dh":163,"dk":77,"dn":70,"dH":-1.5,"dK":-2,"dN":-1.4,"fH":-4,"fK":-2.6,"fN":-4.9},
{"t":8.55,"dh":70,"dk":18,"dn":35,"dH":-0.2,"dK":-1.6,"dN":-0.3,"fH":-1.6,"fK":-2.4,"fN":-3.2},
{"t":9,"dh":22,"dk":63,"dn":6,"dH":0.5,"dK":-0.7,"dN":0.5,"fH":0,"fK":-1.8,"fN":-1.4},
{"t":9.45,"dh":30,"dk":28,"dn":20,"dH":1.1,"dK":0.3,"dN":0.6,"fH":1.2,"fK":-0.4,"fN":-0.6},
{"t":9.9,"dh":120,"dk":6,"dn":8,"dH":1.8,"dK":0.9,"dN":-0.1,"fH":2.7,"fK":0.6,"fN":-0.8},
{"t":10.35,"dh":172,"dk":46,"dn":26,"dH":2,"dK":1.2,"dN":-0.5,"fH":4.4,"fK":1.1,"fN":-0.2},
{"t":10.8,"dh":150,"dk":50,"dn":10,"dH":2,"dK":1.1,"dN":0.2,"fH":4.5,"fK":1.1,"fN":0.2},
{"t":11.25,"dh":130,"dk":38,"dn":26,"dH":1.4,"dK":0.9,"dN":0.8,"fH":2.9,"fK":1,"fN":0.6},
{"t":11.7,"dh":40,"dk":32,"dn":38,"dH":-0.8,"dK":0.3,"dN":1.2,"fH":-1.5,"fK":0.9,"fN":0.9},
{"t":12.15,"dh":112,"dk":8,"dn":14,"dH":-0.8,"dK":-0.4,"dN":0.1,"fH":-2.3,"fK":0.3,"fN":0.3},
{"t":12.6,"dh":88,"dk":45,"dn":30,"dH":-0.9,"dK":-1.2,"dN":-1.2,"fH":-2.9,"fK":-1.5,"fN":-0.6},
{"t":13.05,"dh":130,"dk":55,"dn":48,"dH":-1,"dK":-1.7,"dN":-1.9,"fH":-3.7,"fK":-2.5,"fN":-2.2},
{"t":13.5,"dh":160,"dk":58,"dn":64,"dH":-0.9,"dK":-1.6,"dN":-1.4,"fH":-4.5,"fK":-3.9,"fN":-4.2},
{"t":13.95,"dh":50,"dk":12,"dn":38,"dH":0,"dK":-1.6,"dN":-0.3,"fH":-2,"fK":-3,"fN":-2.8},
{"t":14.4,"dh":25,"dk":60,"dn":8,"dH":0.5,"dK":-0.7,"dN":0.5,"fH":-0.5,"fK":-2,"fN":-1.3},
{"t":14.85,"dh":40,"dk":32,"dn":18,"dH":1,"dK":0.3,"dN":0.6,"fH":1,"fK":-0.6,"fN":-0.6},
{"t":15.3,"dh":95,"dk":8,"dn":6,"dH":1.7,"dK":0.9,"dN":-0.1,"fH":2.6,"fK":0.5,"fN":-0.8},
{"t":15.75,"dh":170,"dk":50,"dn":27,"dH":1.9,"dK":1.2,"dN":-0.5,"fH":4.4,"fK":1.1,"fN":-0.2},
{"t":16.2,"dh":160,"dk":48,"dn":11,"dH":2,"dK":1.1,"dN":0.2,"fH":4.4,"fK":1.2,"fN":0.2},
{"t":16.65,"dh":140,"dk":36,"dn":24,"dH":1.5,"dK":0.9,"dN":0.8,"fH":3,"fK":1,"fN":0.7},
{"t":17.1,"dh":38,"dk":30,"dn":40,"dH":-1.3,"dK":0.3,"dN":1.2,"fH":-1.6,"fK":0.9,"fN":0.8},
{"t":17.55,"dh":120,"dk":6,"dn":12,"dH":-1.6,"dK":-0.4,"dN":0.1,"fH":-2.1,"fK":0.3,"fN":0.2},
{"t":18,"dh":110,"dk":48,"dn":28,"dH":-1.7,"dK":-1.2,"dN":-1.2,"fH":-2.4,"fK":-1.2,"fN":-0.7},
{"t":18.45,"dh":150,"dk":60,"dn":50,"dH":-1.8,"dK":-1.7,"dN":-1.9,"fH":-2.8,"fK":-1.8,"fN":-2.5},
{"t":18.9,"dh":168,"dk":65,"dn":62,"dH":-1.6,"dK":-1.9,"dN":-1.4,"fH":-3.1,"fK":-2.3,"fN":-4.8},
{"t":19.35,"dh":60,"dk":15,"dn":40,"dH":-0.3,"dK":-1.6,"dN":-0.3,"fH":-1.5,"fK":-2.6,"fN":-3},
{"t":19.8,"dh":30,"dk":62,"dn":7,"dH":0.4,"dK":-0.7,"dN":0.5,"fH":0,"fK":-1.8,"fN":-1.3},
{"t":20.25,"dh":45,"dk":30,"dn":20,"dH":1,"dK":0.3,"dN":0.6,"fH":1.1,"fK":-0.5,"fN":-0.6},
{"t":20.7,"dh":100,"dk":7,"dn":8,"dH":1.8,"dK":0.9,"dN":-0.1,"fH":2.6,"fK":0.4,"fN":-0.9},
{"t":21.15,"dh":165,"dk":48,"dn":28,"dH":2,"dK":1.2,"dN":-0.5,"fH":4.3,"fK":1.1,"fN":-0.2},
{"t":21.6,"dh":170,"dk":52,"dn":10,"dH":2,"dK":1.1,"dN":0.2,"fH":4.5,"fK":1.2,"fN":0.2},
{"t":22.05,"dh":145,"dk":37,"dn":25,"dH":1.5,"dK":0.9,"dN":0.8,"fH":3,"fK":1,"fN":0.6},
{"t":22.5,"dh":35,"dk":29,"dn":42,"dH":-1.1,"dK":0.3,"dN":1.2,"fH":-1.6,"fK":0.9,"fN":0.9},
{"t":22.95,"dh":130,"dk":6,"dn":12,"dH":-1.4,"dK":-0.4,"dN":0.1,"fH":-2,"fK":0.4,"fN":0.3},
{"t":23.4,"dh":120,"dk":50,"dn":30,"dH":-1.5,"dK":-1.2,"dN":-1.2,"fH":-2.2,"fK":-1,"fN":-0.7},
{"t":23.85,"dh":155,"dk":63,"dn":52,"dH":-1.6,"dK":-1.7,"dN":-1.9,"fH":-2.6,"fK":-1.8,"fN":-2.5},
{"t":24.3,"dh":175,"dk":70,"dn":68,"dH":-1.5,"dK":-1.8,"dN":-1.4,"fH":-2.5,"fK":-2.6,"fN":-4.8},
{"t":24.75,"dh":65,"dk":16,"dn":36,"dH":-0.1,"dK":-1.6,"dN":-0.3,"fH":-1.3,"fK":-2.2,"fN":-3},
{"t":25.2,"dh":24,"dk":65,"dn":8,"dH":0.5,"dK":-0.7,"dN":0.5,"fH":0.1,"fK":-2,"fN":-1.3},
{"t":25.65,"dh":40,"dk":30,"dn":18,"dH":1.1,"dK":0.3,"dN":0.6,"fH":1.2,"fK":-0.8,"fN":-0.6},
{"t":26.1,"dh":110,"dk":8,"dn":6,"dH":1.8,"dK":0.9,"dN":-0.1,"fH":2.7,"fK":0.4,"fN":-0.8},
{"t":26.55,"dh":172,"dk":47,"dn":26,"dH":2,"dK":1.2,"dN":-0.5,"fH":4.4,"fK":1.2,"fN":-0.2},
{"t":27,"dh":165,"dk":50,"dn":12,"dH":2,"dK":1.1,"dN":0.2,"fH":4.4,"fK":1.2,"fN":0.2},
{"t":27.45,"dh":120,"dk":36,"dn":24,"dH":1.4,"dK":0.9,"dN":0.8,"fH":3,"fK":1,"fN":0.6},
{"t":27.9,"dh":40,"dk":30,"dn":40,"dH":-1.3,"dK":0.3,"dN":1.2,"fH":-1.5,"fK":0.9,"fN":0.8},
{"t":28.35,"dh":105,"dk":7,"dn":13,"dH":-1.6,"dK":-0.4,"dN":0.1,"fH":-1.9,"fK":0.4,"fN":0.3},
{"t":28.8,"dh":110,"dk":48,"dn":30,"dH":-1.8,"dK":-1.2,"dN":-1.2,"fH":-2.1,"fK":-1,"fN":-0.6},
{"t":29.25,"dh":115,"dk":60,"dn":50,"dH":-1.8,"dK":-1.7,"dN":-1.9,"fH":-2.3,"fK":-1.6,"fN":-2.2},
{"t":29.7,"dh":112,"dk":68,"dn":66,"dH":-1.6,"dK":-1.7,"dN":-1.4,"fH":-2.2,"fK":-2,"fN":-4.3},
{"t":30.15,"dh":108,"dk":15,"dn":38,"dH":-0.2,"dK":-1.6,"dN":-0.3,"fH":-1.2,"fK":-1.5,"fN":-2.8},
{"t":30.6,"dh":110,"dk":60,"dn":6,"dH":0.4,"dK":-0.7,"dN":0.5,"fH":0.1,"fK":-2.4,"fN":-1.2},
{"t":31.05,"dh":80,"dk":28,"dn":20,"dH":1,"dK":0.3,"dN":0.6,"fH":1.1,"fK":-1,"fN":-0.6},
{"t":31.5,"dh":30,"dk":6,"dn":8,"dH":1.7,"dK":0.9,"dN":-0.1,"fH":2.6,"fK":0.3,"fN":-0.8},
{"t":31.95,"dh":150,"dk":48,"dn":28,"dH":2,"dK":1.2,"dN":-0.5,"fH":4.4,"fK":1.2,"fN":-0.2},
{"t":32.4,"dh":176,"dk":51,"dn":10,"dH":2,"dK":1.1,"dN":0.2,"fH":4.5,"fK":1.1,"fN":0.2},
{"t":32.85,"dh":140,"dk":37,"dn":25,"dH":1.5,"dK":0.9,"dN":0.8,"fH":3,"fK":1,"fN":0.6},
{"t":33.3,"dh":36,"dk":30,"dn":40,"dH":-1.2,"dK":0.3,"dN":1.2,"fH":-1.6,"fK":0.9,"fN":0.8},
{"t":33.75,"dh":120,"dk":6,"dn":12,"dH":-1.5,"dK":-0.4,"dN":0.1,"fH":-2.1,"fK":0.3,"fN":0.3},
{"t":34.2,"dh":110,"dk":49,"dn":30,"dH":-1.6,"dK":-1.2,"dN":-1.2,"fH":-2.3,"fK":-0.9,"fN":-0.6},
{"t":34.65,"dh":115,"dk":62,"dn":48,"dH":-1.7,"dK":-1.7,"dN":-1.9,"fH":-2.5,"fK":-1.8,"fN":-2.2},
{"t":35.1,"dh":160,"dk":65,"dn":62,"dH":-1.5,"dK":-1.9,"dN":-1.4,"fH":-2.6,"fK":-2.4,"fN":-4.2},
{"t":35.55,"dh":60,"dk":15,"dn":36,"dH":-0.2,"dK":-1.6,"dN":-0.3,"fH":-1.4,"fK":-2.8,"fN":-2.8},
{"t":36,"dh":5,"dk":62,"dn":8,"dH":0.4,"dK":-0.7,"dN":0.5,"fH":0,"fK":-2,"fN":-1.2},
{"t":36.45,"dh":35,"dk":30,"dn":18,"dH":1.1,"dK":0.3,"dN":0.6,"fH":1.1,"fK":-0.8,"fN":-0.6},
{"t":36.9,"dh":100,"dk":8,"dn":8,"dH":1.8,"dK":0.9,"dN":-0.1,"fH":2.6,"fK":0.5,"fN":-0.8},
{"t":37.35,"dh":175,"dk":48,"dn":26,"dH":2,"dK":1.2,"dN":-0.5,"fH":4.4,"fK":1.1,"fN":-0.2},
{"t":37.8,"dh":165,"dk":50,"dn":10,"dH":2,"dK":1.1,"dN":0.2,"fH":4.5,"fK":1.2,"fN":0.2},
{"t":38.25,"dh":135,"dk":36,"dn":24,"dH":1.5,"dK":0.9,"dN":0.8,"fH":3,"fK":1,"fN":0.6},
{"t":38.7,"dh":40,"dk":30,"dn":42,"dH":-1.1,"dK":0.3,"dN":1.2,"fH":-1.6,"fK":0.9,"fN":0.8},
{"t":39.15,"dh":110,"dk":6,"dn":12,"dH":-1.4,"dK":-0.4,"dN":0.1,"fH":-2.1,"fK":0.3,"fN":0.3},
{"t":39.6,"dh":120,"dk":45,"dn":30,"dH":-1.5,"dK":-1.2,"dN":-1.2,"fH":-2.5,"fK":-0.5,"fN":-0.6},
{"t":40.05,"dh":130,"dk":55,"dn":60,"dH":-1.6,"dK":-1.7,"dN":-1.9,"fH":-2.8,"fK":-1.2,"fN":-1.5}
]
},
"columns":3,
"spacing":{"row":10,"column":106.5},
"bounds":"flush",
"concat":[
{"width":252,"height":56,"view":{"stroke":null},"data":{"values":[{}]},"layer":[
{"mark":{"type":"text","fontSize":19},"encoding":{"x":{"datum":-10.08,"type":"quantitative","scale":{"domain":[0,40]},"axis":null},"y":{"datum":0.754,"type":"quantitative","scale":{"domain":[0,1]},"axis":null},"text":{"value":"(a)"}}},
{"mark":{"type":"rule","color":"#000","strokeWidth":1.5},"encoding":{"x":{"datum":20,"type":"quantitative","axis":null},"y":{"datum":0.834,"type":"quantitative","axis":null},"y2":{"datum":-0.179}}},
{"mark":{"type":"rule","color":"#000","strokeWidth":2},"encoding":{"x":{"datum":20,"type":"quantitative","axis":null},"x2":{"datum":42.6},"y":{"datum":0.1375,"type":"quantitative","axis":null}}},
{"mark":{"type":"point","shape":"triangle-right","filled":true,"size":100,"color":"#000","opacity":1},"encoding":{"x":{"datum":43.2,"type":"quantitative","axis":null},"y":{"datum":0.1375,"type":"quantitative","axis":null}}},
{"mark":{"type":"text","align":"center"},"encoding":{"x":{"datum":31.8,"type":"quantitative","axis":null},"y":{"datum":0.477,"type":"quantitative","axis":null},"text":{"value":"Apply active torque"}}},
{"mark":{"type":"text","fontStyle":"italic"},"encoding":{"x":{"datum":-6.59,"type":"quantitative","axis":null},"y":{"datum":0.489,"type":"quantitative","axis":null},"text":{"value":"K"}}},
{"mark":{"type":"text","fontStyle":"italic","fontSize":11},"encoding":{"x":{"datum":-5.24,"type":"quantitative","axis":null},"y":{"datum":0.429,"type":"quantitative","axis":null},"text":{"value":"p"}}},
{"mark":{"type":"text"},"encoding":{"x":{"datum":-3.9,"type":"quantitative","axis":null},"y":{"datum":0.489,"type":"quantitative","axis":null},"text":{"value":"= 25"}}},
{"mark":{"type":"text","fontStyle":"italic","align":"center"},"encoding":{"x":{"datum":3.1,"type":"quantitative","axis":null},"y":{"datum":0.704,"type":"quantitative","axis":null},"text":{"value":"Nm"}}},
{"mark":{"type":"text","fontStyle":"italic","align":"center"},"encoding":{"x":{"datum":3.1,"type":"quantitative","axis":null},"y":{"datum":0.357,"type":"quantitative","axis":null},"text":{"value":"rad"}}},
{"mark":{"type":"rule","color":"#000","strokeWidth":1},"encoding":{"x":{"datum":1.19,"type":"quantitative","axis":null},"x2":{"datum":5.0},"y":{"datum":0.584,"type":"quantitative","axis":null}}},
{"mark":{"type":"text","fontStyle":"italic"},"encoding":{"x":{"datum":5.08,"type":"quantitative","axis":null},"y":{"datum":0.489,"type":"quantitative","axis":null},"text":{"value":", K"}}},
{"mark":{"type":"text","fontStyle":"italic","fontSize":11},"encoding":{"x":{"datum":7.46,"type":"quantitative","axis":null},"y":{"datum":0.429,"type":"quantitative","axis":null},"text":{"value":"d"}}},
{"mark":{"type":"text"},"encoding":{"x":{"datum":8.6,"type":"quantitative","axis":null},"y":{"datum":0.489,"type":"quantitative","axis":null},"text":{"value":"= 5"}}},
{"mark":{"type":"text","fontStyle":"italic","align":"center"},"encoding":{"x":{"datum":15.0,"type":"quantitative","axis":null},"y":{"datum":0.704,"type":"quantitative","axis":null},"text":{"value":"Nm"}}},
{"mark":{"type":"text","fontStyle":"italic","align":"center"},"encoding":{"x":{"datum":15.79,"type":"quantitative","axis":null},"y":{"datum":0.357,"type":"quantitative","axis":null},"text":{"value":"rad/s"}}},
{"mark":{"type":"rule","color":"#000","strokeWidth":1},"encoding":{"x":{"datum":12.78,"type":"quantitative","axis":null},"x2":{"datum":18.81},"y":{"datum":0.584,"type":"quantitative","axis":null}}}
]},
{"width":252,"height":56,"view":{"stroke":null},"data":{"values":[{}]},"mark":{"type":"text","fontSize":19},"encoding":{"x":{"datum":-9.05,"type":"quantitative","scale":{"domain":[0,40]},"axis":null},"y":{"datum":0.664,"type":"quantitative","scale":{"domain":[0,1]},"axis":null},"text":{"value":"(c)"}}},
{"width":252,"height":56,"view":{"stroke":null},"data":{"values":[{}]},"mark":{"type":"text","fontSize":19},"encoding":{"x":{"datum":-9.92,"type":"quantitative","scale":{"domain":[0,40]},"axis":null},"y":{"datum":0.664,"type":"quantitative","scale":{"domain":[0,1]},"axis":null},"text":{"value":"(e)"}}},
{"width":252,"height":56,"data":{"name":"ab"},"encoding":{"x":{"field":"t","type":"quantitative","scale":{"domain":[0,40],"nice":false},"axis":{"values":[0,10,20,30,40],"title":null,"grid":true}}},"layer":[
{"mark":{"type":"line","strokeWidth":2,"interpolate":"monotone","clip":true},"encoding":{"y":{"field":"ah","type":"quantitative","scale":{"domain":[-30,10],"nice":false},"axis":{"orient":"left","values":[-30,-25,-20,-15,-10,-5,0,5,10],"labelExpr":"datum.value % 10 == 0 ? datum.label : ''","labelOverlap":false,"title":["Hip Angle","(deg)"],"grid":true}},"color":{"datum":"Actual Angle","type":"nominal","scale":{"range":["#ff1a1a"]},"legend":{"orient":"none","legendX":0,"legendY":-24.4,"title":null}}}},
{"mark":{"type":"line","strokeWidth":1.2,"interpolate":"monotone","clip":true},"encoding":{"y":{"field":"h","type":"quantitative","scale":{"domain":[-30,10],"nice":false},"axis":null},"color":{"datum":"Target Angle","type":"nominal","scale":{"range":["#000000"]},"legend":{"orient":"none","legendX":0,"legendY":-12.4,"title":null}},"strokeDash":{"datum":"Target Angle","type":"nominal","scale":{"range":[[1.5,1.5]]},"legend":{"orient":"none","legendX":0,"legendY":-12.4,"title":null}}}},
{"mark":{"type":"line","strokeWidth":1.6,"interpolate":"monotone","clip":true},"encoding":{"y":{"field":"aH","type":"quantitative","scale":{"domain":[-8,8],"nice":false},"axis":{"orient":"right","values":[-8,-4,0,4,8],"title":"Torque (Nm)","grid":false,"titlePadding":0}},"color":{"datum":"Torque","type":"nominal","scale":{"range":["#1a7ae6"]},"legend":{"orient":"none","legendX":197,"legendY":-15.4,"title":null,"labelOffset":7}}}},
{"data":{"values":[{}]},"mark":{"type":"rule","color":"#000","strokeWidth":1.5},"encoding":{"x":{"datum":20,"type":"quantitative"}}}
],"resolve":{"scale":{"y":"independent","color":"independent","strokeDash":"independent"}}},
{"width":252,"height":56,"data":{"name":"ce"},"encoding":{"x":{"field":"t","type":"quantitative","scale":{"domain":[0,40],"nice":false},"axis":{"values":[0,10,20,30,40],"title":null,"grid":true}}},"layer":[
{"mark":{"type":"line","strokeWidth":2,"interpolate":"monotone","clip":true},"encoding":{"y":{"field":"ch","type":"quantitative","scale":{"domain":[-10,30],"nice":false},"axis":{"orient":"left","values":[-10,-5,0,5,10,15,20,25,30],"labelExpr":"datum.value % 10 == 0 ? datum.label : ''","labelOverlap":false,"title":["Hip Angle","(deg)"],"grid":true}},"color":{"datum":"Actual Angle","type":"nominal","scale":{"range":["#ff1a1a"]},"legend":{"orient":"none","legendX":0,"legendY":-24.4,"title":null}}}},
{"mark":{"type":"line","strokeWidth":1.2,"interpolate":"monotone","clip":true},"encoding":{"y":{"field":"h","type":"quantitative","scale":{"domain":[-10,30],"nice":false},"axis":null},"color":{"datum":"Target Angle","type":"nominal","scale":{"range":["#000000"]},"legend":{"orient":"none","legendX":0,"legendY":-12.4,"title":null}},"strokeDash":{"datum":"Target Angle","type":"nominal","scale":{"range":[[1.5,1.5]]},"legend":{"orient":"none","legendX":0,"legendY":-12.4,"title":null}}}},
{"mark":{"type":"line","strokeWidth":1.6,"interpolate":"monotone","clip":true},"encoding":{"y":{"field":"cH","type":"quantitative","scale":{"domain":[-8,8],"nice":false},"axis":{"orient":"right","values":[-8,-4,0,4,8],"title":"Torque(Nm)","grid":false,"titlePadding":4}},"color":{"datum":"Torque","type":"nominal","scale":{"range":["#1a7ae6"]},"legend":{"orient":"none","legendX":197,"legendY":-15.4,"title":null,"labelOffset":7}}}}
],"resolve":{"scale":{"y":"independent","color":"independent","strokeDash":"independent"}}},
{"width":252,"height":56,"data":{"name":"ce"},"encoding":{"x":{"field":"t","type":"quantitative","scale":{"domain":[0,40],"nice":false},"axis":{"values":[0,10,20,30,40],"title":null,"grid":true}}},"layer":[
{"mark":{"type":"line","strokeWidth":2,"interpolate":"monotone","clip":true},"encoding":{"y":{"field":"eh","type":"quantitative","scale":{"domain":[-10,30],"nice":false},"axis":{"orient":"left","values":[-10,-5,0,5,10,15,20,25,30],"labelExpr":"datum.value % 10 == 0 ? datum.label : ''","labelOverlap":false,"title":["Hip Angle","(deg)"],"grid":true}},"color":{"datum":"Actual Angle","type":"nominal","scale":{"range":["#ff1a1a"]},"legend":{"orient":"none","legendX":0,"legendY":-24.4,"title":null}}}},
{"mark":{"type":"line","strokeWidth":1.2,"interpolate":"monotone","clip":true},"encoding":{"y":{"field":"h","type":"quantitative","scale":{"domain":[-10,30],"nice":false},"axis":null},"color":{"datum":"Target Angle","type":"nominal","scale":{"range":["#000000"]},"legend":{"orient":"none","legendX":0,"legendY":-12.4,"title":null}},"strokeDash":{"datum":"Target Angle","type":"nominal","scale":{"range":[[1.5,1.5]]},"legend":{"orient":"none","legendX":0,"legendY":-12.4,"title":null}}}},
{"mark":{"type":"line","strokeWidth":1.6,"interpolate":"monotone","clip":true},"encoding":{"y":{"field":"eH","type":"quantitative","scale":{"domain":[-8,8],"nice":false},"axis":{"orient":"right","values":[-8,-4,0,4,8],"title":"Torque(Nm)","grid":false,"titlePadding":4}},"color":{"datum":"Torque","type":"nominal","scale":{"range":["#1a7ae6"]},"legend":{"orient":"none","legendX":198,"legendY":-15.4,"title":null,"labelOffset":7}}}}
],"resolve":{"scale":{"y":"independent","color":"independent","strokeDash":"independent"}}},
{"width":252,"height":58,"data":{"name":"ab"},"encoding":{"x":{"field":"t","type":"quantitative","scale":{"domain":[0,40],"nice":false},"axis":{"values":[0,10,20,30,40],"title":null,"grid":true}}},"layer":[
{"mark":{"type":"line","strokeWidth":2,"interpolate":"monotone","clip":true},"encoding":{"y":{"field":"ak","type":"quantitative","scale":{"domain":[0,46],"nice":false},"axis":{"orient":"left","values":[0,5,10,15,20,25,30,35,40,45],"labelExpr":"datum.value % 10 == 0 ? datum.label : ''","labelOverlap":false,"title":["Knee Angle","(deg)"],"grid":true}},"color":{"datum":"Actual Angle","type":"nominal","scale":{"range":["#ff1a1a"]},"legend":null}}},
{"mark":{"type":"line","strokeWidth":1.2,"interpolate":"monotone","clip":true},"encoding":{"y":{"field":"k","type":"quantitative","scale":{"domain":[0,46],"nice":false},"axis":null},"color":{"datum":"Target Angle","type":"nominal","scale":{"range":["#000000"]},"legend":null},"strokeDash":{"datum":"Target Angle","type":"nominal","scale":{"range":[[1.5,1.5]]},"legend":null}}},
{"mark":{"type":"line","strokeWidth":1.6,"interpolate":"monotone","clip":true},"encoding":{"y":{"field":"aK","type":"quantitative","scale":{"domain":[-4,5.2],"nice":false},"axis":{"orient":"right","values":[-4,-2,0,2,4],"title":"Torque (Nm)","grid":false,"titlePadding":0}},"color":{"datum":"Torque","type":"nominal","scale":{"range":["#1a7ae6"]},"legend":null}}},
{"data":{"values":[{}]},"mark":{"type":"rule","color":"#000","strokeWidth":1.5},"encoding":{"x":{"datum":20,"type":"quantitative"}}}
],"resolve":{"scale":{"y":"independent","color":"independent","strokeDash":"independent"}}},
{"width":252,"height":58,"data":{"name":"ce"},"encoding":{"x":{"field":"t","type":"quantitative","scale":{"domain":[0,40],"nice":false},"axis":{"values":[0,10,20,30,40],"title":null,"grid":true}}},"layer":[
{"mark":{"type":"line","strokeWidth":2,"interpolate":"monotone","clip":true},"encoding":{"y":{"field":"ck","type":"quantitative","scale":{"domain":[-45,2],"nice":false},"axis":{"orient":"left","values":[-45,-40,-35,-30,-25,-20,-15,-10,-5,0],"labelExpr":"datum.value % 10 == 0 ? datum.label : ''","labelOverlap":false,"title":["Knee Angle","(deg)"],"grid":true}},"color":{"datum":"Actual Angle","type":"nominal","scale":{"range":["#ff1a1a"]},"legend":null}}},
{"mark":{"type":"line","strokeWidth":1.2,"interpolate":"monotone","clip":true},"encoding":{"y":{"field":"k","type":"quantitative","scale":{"domain":[-45,2],"nice":false},"axis":null},"color":{"datum":"Target Angle","type":"nominal","scale":{"range":["#000000"]},"legend":null},"strokeDash":{"datum":"Target Angle","type":"nominal","scale":{"range":[[1.5,1.5]]},"legend":null}}},
{"mark":{"type":"line","strokeWidth":1.6,"interpolate":"monotone","clip":true},"encoding":{"y":{"field":"cK","type":"quantitative","scale":{"domain":[-4,5.4],"nice":false},"axis":{"orient":"right","values":[-4,-2,0,2,4],"title":"Torque(Nm)","grid":false,"titlePadding":4}},"color":{"datum":"Torque","type":"nominal","scale":{"range":["#1a7ae6"]},"legend":null}}}
],"resolve":{"scale":{"y":"independent","color":"independent","strokeDash":"independent"}}},
{"width":252,"height":58,"data":{"name":"ce"},"encoding":{"x":{"field":"t","type":"quantitative","scale":{"domain":[0,40],"nice":false},"axis":{"values":[0,10,20,30,40],"title":null,"grid":true}}},"layer":[
{"mark":{"type":"line","strokeWidth":2,"interpolate":"monotone","clip":true},"encoding":{"y":{"field":"ek","type":"quantitative","scale":{"domain":[-45,2],"nice":false},"axis":{"orient":"left","values":[-45,-40,-35,-30,-25,-20,-15,-10,-5,0],"labelExpr":"datum.value % 10 == 0 ? datum.label : ''","labelOverlap":false,"title":["Knee Angle","(deg)"],"grid":true}},"color":{"datum":"Actual Angle","type":"nominal","scale":{"range":["#ff1a1a"]},"legend":null}}},
{"mark":{"type":"line","strokeWidth":1.2,"interpolate":"monotone","clip":true},"encoding":{"y":{"field":"k","type":"quantitative","scale":{"domain":[-45,2],"nice":false},"axis":null},"color":{"datum":"Target Angle","type":"nominal","scale":{"range":["#000000"]},"legend":null},"strokeDash":{"datum":"Target Angle","type":"nominal","scale":{"range":[[1.5,1.5]]},"legend":null}}},
{"mark":{"type":"line","strokeWidth":1.6,"interpolate":"monotone","clip":true},"encoding":{"y":{"field":"eK","type":"quantitative","scale":{"domain":[-4,5.4],"nice":false},"axis":{"orient":"right","values":[-4,-2,0,2,4],"title":"Torque(Nm)","grid":false,"titlePadding":4}},"color":{"datum":"Torque","type":"nominal","scale":{"range":["#1a7ae6"]},"legend":null}}}
],"resolve":{"scale":{"y":"independent","color":"independent","strokeDash":"independent"}}},
{"width":252,"height":59,"data":{"name":"ab"},"encoding":{"x":{"field":"t","type":"quantitative","scale":{"domain":[0,40],"nice":false},"axis":{"values":[0,10,20,30,40],"title":"Time (s)","titleFontSize":10.5,"titlePadding":3,"grid":true}}},"layer":[
{"mark":{"type":"line","strokeWidth":2,"interpolate":"monotone","clip":true},"encoding":{"y":{"field":"an","type":"quantitative","scale":{"domain":[-10,16.2],"nice":false},"axis":{"orient":"left","values":[-10,-7.5,-5,-2.5,0,2.5,5,7.5,10,12.5,15],"labelExpr":"datum.value % 5 == 0 ? datum.label : ''","labelOverlap":false,"title":["Ankle Angle","(deg)"],"grid":true}},"color":{"datum":"Actual Angle","type":"nominal","scale":{"range":["#ff1a1a"]},"legend":null}}},
{"mark":{"type":"line","strokeWidth":1.2,"interpolate":"monotone","clip":true},"encoding":{"y":{"field":"n","type":"quantitative","scale":{"domain":[-10,16.2],"nice":false},"axis":null},"color":{"datum":"Target Angle","type":"nominal","scale":{"range":["#000000"]},"legend":null},"strokeDash":{"datum":"Target Angle","type":"nominal","scale":{"range":[[1.5,1.5]]},"legend":null}}},
{"mark":{"type":"line","strokeWidth":1.6,"interpolate":"monotone","clip":true},"encoding":{"y":{"field":"aN","type":"quantitative","scale":{"domain":[-5.2,5.6],"nice":false},"axis":{"orient":"right","values":[-4,-2,0,2,4],"title":"Torque (Nm)","grid":false,"titlePadding":0}},"color":{"datum":"Torque","type":"nominal","scale":{"range":["#1a7ae6"]},"legend":null}}},
{"data":{"values":[{}]},"mark":{"type":"rule","color":"#000","strokeWidth":1.5},"encoding":{"x":{"datum":20,"type":"quantitative"}}}
],"resolve":{"scale":{"y":"independent","color":"independent","strokeDash":"independent"}}},
{"width":252,"height":59,"data":{"name":"ce"},"encoding":{"x":{"field":"t","type":"quantitative","scale":{"domain":[0,40],"nice":false},"axis":{"values":[0,10,20,30,40],"title":"Time (s)","titleFontSize":10.5,"titlePadding":3,"grid":true}}},"layer":[
{"mark":{"type":"line","strokeWidth":2,"interpolate":"monotone","clip":true},"encoding":{"y":{"field":"cn","type":"quantitative","scale":{"domain":[-15,11],"nice":false},"axis":{"orient":"left","values":[-15,-12.5,-10,-7.5,-5,-2.5,0,2.5,5,7.5,10],"labelExpr":"datum.value % 5 == 0 ? datum.label : ''","labelOverlap":false,"title":["Ankle Angle","(deg)"],"grid":true}},"color":{"datum":"Actual Angle","type":"nominal","scale":{"range":["#ff1a1a"]},"legend":null}}},
{"mark":{"type":"line","strokeWidth":1.2,"interpolate":"monotone","clip":true},"encoding":{"y":{"field":"n","type":"quantitative","scale":{"domain":[-15,11],"nice":false},"axis":null},"color":{"datum":"Target Angle","type":"nominal","scale":{"range":["#000000"]},"legend":null},"strokeDash":{"datum":"Target Angle","type":"nominal","scale":{"range":[[1.5,1.5]]},"legend":null}}},
{"mark":{"type":"line","strokeWidth":1.6,"interpolate":"monotone","clip":true},"encoding":{"y":{"field":"cN","type":"quantitative","scale":{"domain":[-5,5.5],"nice":false},"axis":{"orient":"right","values":[-4,-2,0,2,4],"title":"Torque(Nm)","grid":false,"titlePadding":4}},"color":{"datum":"Torque","type":"nominal","scale":{"range":["#1a7ae6"]},"legend":null}}}
],"resolve":{"scale":{"y":"independent","color":"independent","strokeDash":"independent"}}},
{"width":252,"height":59,"data":{"name":"ce"},"encoding":{"x":{"field":"t","type":"quantitative","scale":{"domain":[0,40],"nice":false},"axis":{"values":[0,10,20,30,40],"title":"Time (s)","titleFontSize":10.5,"titlePadding":3,"grid":true}}},"layer":[
{"mark":{"type":"line","strokeWidth":2,"interpolate":"monotone","clip":true},"encoding":{"y":{"field":"en","type":"quantitative","scale":{"domain":[-15,11],"nice":false},"axis":{"orient":"left","values":[-15,-12.5,-10,-7.5,-5,-2.5,0,2.5,5,7.5,10],"labelExpr":"datum.value % 5 == 0 ? datum.label : ''","labelOverlap":false,"title":["Ankle Angle","(deg)"],"grid":true}},"color":{"datum":"Actual Angle","type":"nominal","scale":{"range":["#ff1a1a"]},"legend":null}}},
{"mark":{"type":"line","strokeWidth":1.2,"interpolate":"monotone","clip":true},"encoding":{"y":{"field":"n","type":"quantitative","scale":{"domain":[-15,11],"nice":false},"axis":null},"color":{"datum":"Target Angle","type":"nominal","scale":{"range":["#000000"]},"legend":null},"strokeDash":{"datum":"Target Angle","type":"nominal","scale":{"range":[[1.5,1.5]]},"legend":null}}},
{"mark":{"type":"line","strokeWidth":1.6,"interpolate":"monotone","clip":true},"encoding":{"y":{"field":"eN","type":"quantitative","scale":{"domain":[-5,5.5],"nice":false},"axis":{"orient":"right","values":[-4,-2,0,2,4],"title":"Torque(Nm)","grid":false,"titlePadding":4}},"color":{"datum":"Torque","type":"nominal","scale":{"range":["#1a7ae6"]},"legend":null}}}
],"resolve":{"scale":{"y":"independent","color":"independent","strokeDash":"independent"}}},
{"width":252,"height":89.3,"view":{"stroke":null},"data":{"values":[{}]},"layer":[
{"mark":{"type":"text","fontSize":19},"encoding":{"x":{"datum":-10.13,"type":"quantitative","scale":{"domain":[0,40]},"axis":null},"y":{"datum":0.854,"type":"quantitative","scale":{"domain":[0,1.5946]},"axis":null},"text":{"value":"(b)"}}},
{"mark":{"type":"rule","color":"#000","strokeWidth":1.5},"encoding":{"x":{"datum":20,"type":"quantitative","axis":null},"y":{"datum":0.845,"type":"quantitative","axis":null},"y2":{"datum":-0.179}}},
{"mark":{"type":"rule","color":"#000","strokeWidth":2},"encoding":{"x":{"datum":20,"type":"quantitative","axis":null},"x2":{"datum":42.6},"y":{"datum":0.143,"type":"quantitative","axis":null}}},
{"mark":{"type":"point","shape":"triangle-right","filled":true,"size":100,"color":"#000","opacity":1},"encoding":{"x":{"datum":43.2,"type":"quantitative","axis":null},"y":{"datum":0.143,"type":"quantitative","axis":null}}},
{"mark":{"type":"text","align":"center"},"encoding":{"x":{"datum":31.9,"type":"quantitative","axis":null},"y":{"datum":0.446,"type":"quantitative","axis":null},"text":{"value":"Apply active torque"}}},
{"mark":{"type":"text","fontStyle":"italic"},"encoding":{"x":{"datum":-7.06,"type":"quantitative","axis":null},"y":{"datum":0.518,"type":"quantitative","axis":null},"text":{"value":"K"}}},
{"mark":{"type":"text","fontStyle":"italic","fontSize":11},"encoding":{"x":{"datum":-5.63,"type":"quantitative","axis":null},"y":{"datum":0.47,"type":"quantitative","axis":null},"text":{"value":"p"}}},
{"mark":{"type":"text"},"encoding":{"x":{"datum":-4.5,"type":"quantitative","axis":null},"y":{"datum":0.518,"type":"quantitative","axis":null},"text":{"value":"= 250"}}},
{"mark":{"type":"text","fontStyle":"italic","align":"center"},"encoding":{"x":{"datum":3.89,"type":"quantitative","axis":null},"y":{"datum":0.696,"type":"quantitative","axis":null},"text":{"value":"Nm"}}},
{"mark":{"type":"text","fontStyle":"italic","align":"center"},"encoding":{"x":{"datum":3.89,"type":"quantitative","axis":null},"y":{"datum":0.429,"type":"quantitative","axis":null},"text":{"value":"rad"}}},
{"mark":{"type":"rule","color":"#000","strokeWidth":1},"encoding":{"x":{"datum":1.98,"type":"quantitative","axis":null},"x2":{"datum":5.48},"y":{"datum":0.62,"type":"quantitative","axis":null}}},
{"mark":{"type":"text","fontStyle":"italic"},"encoding":{"x":{"datum":5.56,"type":"quantitative","axis":null},"y":{"datum":0.518,"type":"quantitative","axis":null},"text":{"value":", K"}}},
{"mark":{"type":"text","fontStyle":"italic","fontSize":11},"encoding":{"x":{"datum":7.94,"type":"quantitative","axis":null},"y":{"datum":0.47,"type":"quantitative","axis":null},"text":{"value":"d"}}},
{"mark":{"type":"text"},"encoding":{"x":{"datum":9.1,"type":"quantitative","axis":null},"y":{"datum":0.518,"type":"quantitative","axis":null},"text":{"value":"= 5"}}},
{"mark":{"type":"text","fontStyle":"italic","align":"center"},"encoding":{"x":{"datum":15.9,"type":"quantitative","axis":null},"y":{"datum":0.696,"type":"quantitative","axis":null},"text":{"value":"Nm"}}},
{"mark":{"type":"text","fontStyle":"italic","align":"center"},"encoding":{"x":{"datum":16.3,"type":"quantitative","axis":null},"y":{"datum":0.429,"type":"quantitative","axis":null},"text":{"value":"rad/s"}}},
{"mark":{"type":"rule","color":"#000","strokeWidth":1},"encoding":{"x":{"datum":13.57,"type":"quantitative","axis":null},"x2":{"datum":19.29},"y":{"datum":0.62,"type":"quantitative","axis":null}}}
]},
{"width":252,"height":89.3,"view":{"stroke":null},"data":{"values":[{}]},"mark":{"type":"text","fontSize":19},"encoding":{"x":{"datum":-9.25,"type":"quantitative","scale":{"domain":[0,40]},"axis":null},"y":{"datum":0.734,"type":"quantitative","scale":{"domain":[0,1.5946]},"axis":null},"text":{"value":"(d)"}}},
{"width":252,"height":89.3,"view":{"stroke":null},"data":{"values":[{}]},"mark":{"type":"text","fontSize":19},"encoding":{"x":{"datum":-8.49,"type":"quantitative","scale":{"domain":[0,40]},"axis":null},"y":{"datum":0.764,"type":"quantitative","scale":{"domain":[0,1.5946]},"axis":null},"text":{"value":"(f)"}}},
{"width":252,"height":56,"data":{"name":"ab"},"encoding":{"x":{"field":"t","type":"quantitative","scale":{"domain":[0,40],"nice":false},"axis":{"values":[0,10,20,30,40],"title":null,"grid":true}}},"layer":[
{"mark":{"type":"line","strokeWidth":2,"interpolate":"monotone","clip":true},"encoding":{"y":{"field":"bh","type":"quantitative","scale":{"domain":[-30,10],"nice":false},"axis":{"orient":"left","values":[-30,-25,-20,-15,-10,-5,0,5,10],"labelExpr":"datum.value % 10 == 0 ? datum.label : ''","labelOverlap":false,"title":["Hip Angle","(deg)"],"grid":true}},"color":{"datum":"Actual Angle","type":"nominal","scale":{"range":["#ff1a1a"]},"legend":{"orient":"none","legendX":0,"legendY":-24.4,"title":null}}}},
{"mark":{"type":"line","strokeWidth":1.2,"interpolate":"monotone","clip":true},"encoding":{"y":{"field":"h","type":"quantitative","scale":{"domain":[-30,10],"nice":false},"axis":null},"color":{"datum":"Target Angle","type":"nominal","scale":{"range":["#000000"]},"legend":{"orient":"none","legendX":0,"legendY":-12.4,"title":null}},"strokeDash":{"datum":"Target Angle","type":"nominal","scale":{"range":[[1.5,1.5]]},"legend":{"orient":"none","legendX":0,"legendY":-12.4,"title":null}}}},
{"mark":{"type":"line","strokeWidth":1.6,"interpolate":"monotone","clip":true},"encoding":{"y":{"field":"bH","type":"quantitative","scale":{"domain":[-8,8],"nice":false},"axis":{"orient":"right","values":[-8,-4,0,4,8],"title":"Torque(Nm)","grid":false,"titlePadding":4}},"color":{"datum":"Torque","type":"nominal","scale":{"range":["#1a7ae6"]},"legend":{"orient":"none","legendX":197,"legendY":-15.4,"title":null,"labelOffset":7}}}},
{"data":{"values":[{}]},"mark":{"type":"rule","color":"#000","strokeWidth":1.5},"encoding":{"x":{"datum":20,"type":"quantitative"}}}
],"resolve":{"scale":{"y":"independent","color":"independent","strokeDash":"independent"}}},
{"width":252,"height":56,"data":{"name":"df"},"encoding":{"x":{"field":"t","type":"quantitative","scale":{"domain":[0,40],"nice":false},"axis":{"values":[0,10,20,30,40],"title":null,"grid":true}}},"layer":[
{"mark":{"type":"line","strokeWidth":1.3,"interpolate":"monotone","clip":true},"encoding":{"y":{"field":"dh","type":"quantitative","scale":{"domain":[0,200],"nice":false},"axis":{"values":[0,20,40,60,80,100,120,140,160,180,200],"labelExpr":"datum.value % 40 == 0 ? datum.label : ''","labelOverlap":false,"title":["Hip Stiffness","(Nm/rad)"],"grid":true,"titlePadding":0}},"color":{"datum":"Stiffness","type":"nominal","scale":{"range":["#ff5cc6"]},"legend":{"orient":"none","legendX":1.3,"legendY":-13.3,"title":null,"labelOffset":2}}}},
{"mark":{"type":"line","strokeWidth":1.5,"interpolate":"monotone","clip":true},"encoding":{"y":{"field":"dH","type":"quantitative","scale":{"domain":[-4.55,4.55],"nice":false},"axis":{"orient":"right","values":[-4,-2,0,2,4],"title":"Error(deg)","grid":false,"titlePadding":14}},"color":{"datum":"Angle Error","type":"nominal","scale":{"range":["#808080"]},"legend":{"orient":"none","legendX":180,"legendY":-15,"title":null,"labelOffset":4}}}}
],"resolve":{"scale":{"y":"independent","color":"independent"}}},
{"width":252,"height":56,"layer":[
{"data":{"name":"df"},"mark":{"type":"line","strokeWidth":1.5,"interpolate":"monotone","clip":true},"encoding":{"x":{"field":"t","type":"quantitative","scale":{"domain":[0,40],"nice":false},"axis":{"values":[0,10,20,30,40],"title":null,"grid":true}},"y":{"field":"fH","type":"quantitative","scale":{"domain":[-5.06,4.7],"nice":false},"axis":{"orient":"right","values":[-4,-2,0,2,4],"title":"Error(deg)","grid":false,"titlePadding":4}},"color":{"datum":"Angle Error","type":"nominal","scale":{"range":["#808080"]},"legend":{"orient":"none","legendX":180,"legendY":-15,"title":null,"labelOffset":4}}}},
{"data":{"values":[{}]},"mark":{"type":"rule","strokeWidth":2.5},"encoding":{"y":{"datum":62,"type":"quantitative","scale":{"domain":[0,200],"nice":false},"axis":{"orient":"left","values":[0,20,40,60,80,100,120,140,160,180,200],"labelExpr":"datum.value % 40 == 0 ? datum.label : ''","labelOverlap":false,"title":["Hip Stiffness","(Nm/rad)"],"grid":true,"titlePadding":0}},"color":{"datum":"Stiffness","type":"nominal","scale":{"range":["#ff2c8c"]},"legend":{"orient":"none","legendX":1.5,"legendY":-13.3,"title":null,"labelOffset":3,"symbolStrokeWidth":3}}}}
],"resolve":{"scale":{"y":"independent","color":"independent"}}},
{"width":252,"height":58,"data":{"name":"ab"},"encoding":{"x":{"field":"t","type":"quantitative","scale":{"domain":[0,40],"nice":false},"axis":{"values":[0,10,20,30,40],"title":null,"grid":true}}},"layer":[
{"mark":{"type":"line","strokeWidth":2,"interpolate":"monotone","clip":true},"encoding":{"y":{"field":"bk","type":"quantitative","scale":{"domain":[0,46],"nice":false},"axis":{"orient":"left","values":[0,5,10,15,20,25,30,35,40,45],"labelExpr":"datum.value % 10 == 0 ? datum.label : ''","labelOverlap":false,"title":["Knee Angle","(deg)"],"grid":true}},"color":{"datum":"Actual Angle","type":"nominal","scale":{"range":["#ff1a1a"]},"legend":null}}},
{"mark":{"type":"line","strokeWidth":1.2,"interpolate":"monotone","clip":true},"encoding":{"y":{"field":"k","type":"quantitative","scale":{"domain":[0,46],"nice":false},"axis":null},"color":{"datum":"Target Angle","type":"nominal","scale":{"range":["#000000"]},"legend":null},"strokeDash":{"datum":"Target Angle","type":"nominal","scale":{"range":[[1.5,1.5]]},"legend":null}}},
{"mark":{"type":"line","strokeWidth":1.6,"interpolate":"monotone","clip":true},"encoding":{"y":{"field":"bK","type":"quantitative","scale":{"domain":[-4,5.2],"nice":false},"axis":{"orient":"right","values":[-4,-2,0,2,4],"title":"Torque(Nm)","grid":false,"titlePadding":4}},"color":{"datum":"Torque","type":"nominal","scale":{"range":["#1a7ae6"]},"legend":null}}},
{"data":{"values":[{}]},"mark":{"type":"rule","color":"#000","strokeWidth":1.5},"encoding":{"x":{"datum":20,"type":"quantitative"}}}
],"resolve":{"scale":{"y":"independent","color":"independent","strokeDash":"independent"}}},
{"width":252,"height":58,"data":{"name":"df"},"encoding":{"x":{"field":"t","type":"quantitative","scale":{"domain":[0,40],"nice":false},"axis":{"values":[0,10,20,30,40],"title":null,"grid":true}}},"layer":[
{"mark":{"type":"line","strokeWidth":1.3,"interpolate":"monotone","clip":true},"encoding":{"y":{"field":"dk","type":"quantitative","scale":{"domain":[0,83],"nice":false},"axis":{"values":[0,10,20,30,40,50,60,70,80],"labelExpr":"datum.value % 20 == 0 ? datum.label : ''","labelOverlap":false,"title":["Knee Stiffness","(Nm/rad)"],"grid":true,"titlePadding":0}},"color":{"datum":"Stiffness","type":"nominal","scale":{"range":["#ff5cc6"]},"legend":null}}},
{"mark":{"type":"line","strokeWidth":1.5,"interpolate":"monotone","clip":true},"encoding":{"y":{"field":"dK","type":"quantitative","scale":{"domain":[-4,4],"nice":false},"axis":{"orient":"right","values":[-4,-2,0,2,4],"title":"Error(deg)","grid":false,"titlePadding":14}},"color":{"datum":"Angle Error","type":"nominal","scale":{"range":["#808080"]},"legend":null}}}
],"resolve":{"scale":{"y":"independent","color":"independent"}}},
{"width":252,"height":58,"layer":[
{"data":{"name":"df"},"mark":{"type":"line","strokeWidth":1.5,"interpolate":"monotone","clip":true},"encoding":{"x":{"field":"t","type":"quantitative","scale":{"domain":[0,40],"nice":false},"axis":{"values":[0,10,20,30,40],"title":null,"grid":true}},"y":{"field":"fK","type":"quantitative","scale":{"domain":[-4,4.3],"nice":false},"axis":{"orient":"right","values":[-4,-2,0,2,4],"title":"Error(deg)","grid":false,"titlePadding":4}},"color":{"datum":"Angle Error","type":"nominal","scale":{"range":["#808080"]},"legend":null}}},
{"data":{"values":[{}]},"mark":{"type":"rule","strokeWidth":2.5},"encoding":{"y":{"datum":25,"type":"quantitative","scale":{"domain":[0,83],"nice":false},"axis":{"orient":"left","values":[0,10,20,30,40,50,60,70,80],"labelExpr":"datum.value % 20 == 0 ? datum.label : ''","labelOverlap":false,"title":["Knee Stiffness","(Nm/rad)"],"grid":true,"titlePadding":0}},"color":{"datum":"Stiffness","type":"nominal","scale":{"range":["#ff2c8c"]},"legend":null}}}
],"resolve":{"scale":{"y":"independent","color":"independent"}}},
{"width":252,"height":59,"data":{"name":"ab"},"encoding":{"x":{"field":"t","type":"quantitative","scale":{"domain":[0,40],"nice":false},"axis":{"values":[0,10,20,30,40],"title":"Time (s)","titleFontSize":10.5,"titlePadding":3,"grid":true}}},"layer":[
{"mark":{"type":"line","strokeWidth":2,"interpolate":"monotone","clip":true},"encoding":{"y":{"field":"bn","type":"quantitative","scale":{"domain":[-10,16.2],"nice":false},"axis":{"orient":"left","values":[-10,-7.5,-5,-2.5,0,2.5,5,7.5,10,12.5,15],"labelExpr":"datum.value % 5 == 0 ? datum.label : ''","labelOverlap":false,"title":["Ankle Angle","(deg)"],"grid":true}},"color":{"datum":"Actual Angle","type":"nominal","scale":{"range":["#ff1a1a"]},"legend":null}}},
{"mark":{"type":"line","strokeWidth":1.2,"interpolate":"monotone","clip":true},"encoding":{"y":{"field":"n","type":"quantitative","scale":{"domain":[-10,16.2],"nice":false},"axis":null},"color":{"datum":"Target Angle","type":"nominal","scale":{"range":["#000000"]},"legend":null},"strokeDash":{"datum":"Target Angle","type":"nominal","scale":{"range":[[1.5,1.5]]},"legend":null}}},
{"mark":{"type":"line","strokeWidth":1.6,"interpolate":"monotone","clip":true},"encoding":{"y":{"field":"bN","type":"quantitative","scale":{"domain":[-5.2,5.6],"nice":false},"axis":{"orient":"right","values":[-4,-2,0,2,4],"title":"Torque(Nm)","grid":false,"titlePadding":4}},"color":{"datum":"Torque","type":"nominal","scale":{"range":["#1a7ae6"]},"legend":null}}},
{"data":{"values":[{}]},"mark":{"type":"rule","color":"#000","strokeWidth":1.5},"encoding":{"x":{"datum":20,"type":"quantitative"}}}
],"resolve":{"scale":{"y":"independent","color":"independent","strokeDash":"independent"}}},
{"width":252,"height":59,"data":{"name":"df"},"encoding":{"x":{"field":"t","type":"quantitative","scale":{"domain":[0,40],"nice":false},"axis":{"values":[0,10,20,30,40],"title":"Time (s)","titleFontSize":10.5,"titlePadding":3,"grid":true}}},"layer":[
{"mark":{"type":"line","strokeWidth":1.3,"interpolate":"monotone","clip":true},"encoding":{"y":{"field":"dn","type":"quantitative","scale":{"domain":[0,84],"nice":false},"axis":{"values":[0,10,20,30,40,50,60,70,80],"labelExpr":"datum.value % 20 == 0 ? datum.label : ''","labelOverlap":false,"title":["Ankle Stiffness","(Nm/rad)"],"grid":true,"titlePadding":0}},"color":{"datum":"Stiffness","type":"nominal","scale":{"range":["#ff5cc6"]},"legend":null}}},
{"mark":{"type":"line","strokeWidth":1.5,"interpolate":"monotone","clip":true},"encoding":{"y":{"field":"dN","type":"quantitative","scale":{"domain":[-4,4.2],"nice":false},"axis":{"orient":"right","values":[-4,-2,0,2,4],"title":"Error(deg)","grid":false,"titlePadding":14}},"color":{"datum":"Angle Error","type":"nominal","scale":{"range":["#808080"]},"legend":null}}}
],"resolve":{"scale":{"y":"independent","color":"independent"}}},
{"width":252,"height":59,"layer":[
{"data":{"name":"df"},"mark":{"type":"line","strokeWidth":1.5,"interpolate":"monotone","clip":true},"encoding":{"x":{"field":"t","type":"quantitative","scale":{"domain":[0,40],"nice":false},"axis":{"values":[0,10,20,30,40],"title":"Time (s)","titleFontSize":10.5,"titlePadding":3,"grid":true}},"y":{"field":"fN","type":"quantitative","scale":{"domain":[-6.2,2.44],"nice":false},"axis":{"orient":"right","values":[-6,-4,-2,0,2],"title":"Error(deg)","grid":false,"titlePadding":4}},"color":{"datum":"Angle Error","type":"nominal","scale":{"range":["#808080"]},"legend":null}}},
{"data":{"values":[{}]},"mark":{"type":"rule","strokeWidth":2.5},"encoding":{"y":{"datum":12,"type":"quantitative","scale":{"domain":[0,84],"nice":false},"axis":{"orient":"left","values":[0,10,20,30,40,50,60,70,80],"labelExpr":"datum.value % 20 == 0 ? datum.label : ''","labelOverlap":false,"title":["Ankle Stiffness","(Nm/rad)"],"grid":true,"titlePadding":0}},"color":{"datum":"Stiffness","type":"nominal","scale":{"range":["#ff2c8c"]},"legend":null}}}
],"resolve":{"scale":{"y":"independent","color":"independent"}}}
]
}
